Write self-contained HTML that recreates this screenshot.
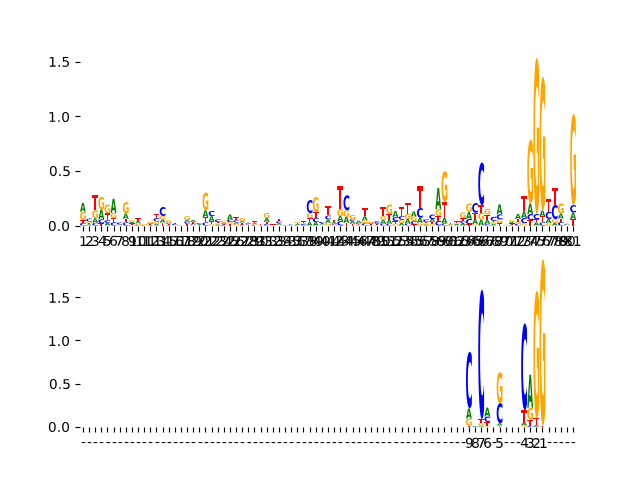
<!DOCTYPE html>
<html><head><meta charset="utf-8"><title>Sequence logo</title>
<style>html,body{margin:0;padding:0;background:#fff;width:640px;height:480px;overflow:hidden;font-family:"Liberation Sans",sans-serif}svg{display:block}</style>
</head><body>
<svg width="640" height="480" viewBox="0 0 460.8 345.6" version="1.1">
<defs>
<style type="text/css">*{stroke-linejoin: round; stroke-linecap: butt}</style>
</defs>
<g id="figure_1">
<g id="axes_1">
<g id="matplotlib.axis_1">
<g id="xtick_1">
<g id="text_1">
<g transform="translate(56.8743 177.0304) scale(0.1 -0.1)">
<defs>
<path id="DejaVuSans-31" d="M 794 531 
L 1825 531 
L 1825 4091 
L 703 3866 
L 703 4441 
L 1819 4666 
L 2450 4666 
L 2450 531 
L 3481 531 
L 3481 0 
L 794 0 
L 794 531 
z
" transform="scale(0.015469 0.015000)"/>
</defs>
<use href="#DejaVuSans-31"/>
</g>
</g>
</g>
<g id="xtick_2">
<g id="text_2">
<g transform="translate(61.2859 177.0304) scale(0.1 -0.1)">
<defs>
<path id="DejaVuSans-32" d="M 1228 531 
L 3431 531 
L 3431 0 
L 469 0 
L 469 531 
Q 828 903 1448 1529 
Q 2069 2156 2228 2338 
Q 2531 2678 2651 2914 
Q 2772 3150 2772 3378 
Q 2772 3750 2511 3984 
Q 2250 4219 1831 4219 
Q 1534 4219 1204 4116 
Q 875 4013 500 3803 
L 500 4441 
Q 881 4594 1212 4672 
Q 1544 4750 1819 4750 
Q 2544 4750 2975 4387 
Q 3406 4025 3406 3419 
Q 3406 3131 3298 2873 
Q 3191 2616 2906 2266 
Q 2828 2175 2409 1742 
Q 1991 1309 1228 531 
z
" transform="scale(0.015469 0.015000)"/>
</defs>
<use href="#DejaVuSans-32"/>
</g>
</g>
</g>
<g id="xtick_3">
<g id="text_3">
<g transform="translate(65.5175 177.0304) scale(0.1 -0.1)">
<defs>
<path id="DejaVuSans-33" d="M 2597 2516 
Q 3050 2419 3304 2112 
Q 3559 1806 3559 1356 
Q 3559 666 3084 287 
Q 2609 -91 1734 -91 
Q 1441 -91 1130 -33 
Q 819 25 488 141 
L 488 750 
Q 750 597 1062 519 
Q 1375 441 1716 441 
Q 2309 441 2620 675 
Q 2931 909 2931 1356 
Q 2931 1769 2642 2001 
Q 2353 2234 1838 2234 
L 1294 2234 
L 1294 2753 
L 1863 2753 
Q 2328 2753 2575 2939 
Q 2822 3125 2822 3475 
Q 2822 3834 2567 4026 
Q 2313 4219 1838 4219 
Q 1578 4219 1281 4162 
Q 984 4106 628 3988 
L 628 4550 
Q 988 4650 1302 4700 
Q 1616 4750 1894 4750 
Q 2613 4750 3031 4423 
Q 3450 4097 3450 3541 
Q 3450 3153 3228 2886 
Q 3006 2619 2597 2516 
z
" transform="scale(0.015469 0.015000)"/>
</defs>
<use href="#DejaVuSans-33"/>
</g>
</g>
</g>
<g id="xtick_4">
<g id="text_4">
<g transform="translate(70.6491 176.6704) scale(0.1 -0.1)">
<defs>
<path id="DejaVuSans-34" d="M 2419 4116 
L 825 1625 
L 2419 1625 
L 2419 4116 
z
M 2253 4666 
L 3047 4666 
L 3047 1625 
L 3713 1625 
L 3713 1100 
L 3047 1100 
L 3047 0 
L 2419 0 
L 2419 1100 
L 313 1100 
L 313 1709 
L 2253 4666 
z
" transform="scale(0.015469 0.015000)"/>
</defs>
<use href="#DejaVuSans-34"/>
</g>
</g>
</g>
<g id="xtick_5">
<g id="text_5">
<g transform="translate(74.1607 176.8504) scale(0.1 -0.1)">
<defs>
<path id="DejaVuSans-35" d="M 691 4666 
L 3169 4666 
L 3169 4134 
L 1269 4134 
L 1269 2991 
Q 1406 3038 1543 3061 
Q 1681 3084 1819 3084 
Q 2600 3084 3056 2656 
Q 3513 2228 3513 1497 
Q 3513 744 3044 326 
Q 2575 -91 1722 -91 
Q 1428 -91 1123 -41 
Q 819 9 494 109 
L 494 744 
Q 775 591 1075 516 
Q 1375 441 1709 441 
Q 2250 441 2565 725 
Q 2881 1009 2881 1497 
Q 2881 1984 2565 2268 
Q 2250 2553 1709 2553 
Q 1456 2553 1204 2497 
Q 953 2441 691 2322 
L 691 4666 
z
" transform="scale(0.015469 0.015000)"/>
</defs>
<use href="#DejaVuSans-35"/>
</g>
</g>
</g>
<g id="xtick_6">
<g id="text_6">
<g transform="translate(78.5723 176.8504) scale(0.1 -0.1)">
<defs>
<path id="DejaVuSans-36" d="M 2113 2584 
Q 1688 2584 1439 2293 
Q 1191 2003 1191 1497 
Q 1191 994 1439 701 
Q 1688 409 2113 409 
Q 2538 409 2786 701 
Q 3034 994 3034 1497 
Q 3034 2003 2786 2293 
Q 2538 2584 2113 2584 
z
M 3366 4563 
L 3366 3988 
Q 3128 4100 2886 4159 
Q 2644 4219 2406 4219 
Q 1781 4219 1451 3797 
Q 1122 3375 1075 2522 
Q 1259 2794 1537 2939 
Q 1816 3084 2150 3084 
Q 2853 3084 3261 2657 
Q 3669 2231 3669 1497 
Q 3669 778 3244 343 
Q 2819 -91 2113 -91 
Q 1303 -91 875 529 
Q 447 1150 447 2328 
Q 447 3434 972 4092 
Q 1497 4750 2381 4750 
Q 2619 4750 2861 4703 
Q 3103 4656 3366 4563 
z
" transform="scale(0.015469 0.015000)"/>
</defs>
<use href="#DejaVuSans-36"/>
</g>
</g>
</g>
<g id="xtick_7">
<g id="text_7">
<g transform="translate(82.8039 176.8504) scale(0.1 -0.1)">
<defs>
<path id="DejaVuSans-37" d="M 525 4666 
L 3525 4666 
L 3525 4397 
L 1831 0 
L 1172 0 
L 2766 4134 
L 525 4134 
L 525 4666 
z
" transform="scale(0.015469 0.015000)"/>
</defs>
<use href="#DejaVuSans-37"/>
</g>
</g>
</g>
<g id="xtick_8">
<g id="text_8">
<g transform="translate(87.2155 177.0304) scale(0.1 -0.1)">
<defs>
<path id="DejaVuSans-38" d="M 2034 2216 
Q 1584 2216 1326 1975 
Q 1069 1734 1069 1313 
Q 1069 891 1326 650 
Q 1584 409 2034 409 
Q 2484 409 2743 651 
Q 3003 894 3003 1313 
Q 3003 1734 2745 1975 
Q 2488 2216 2034 2216 
z
M 1403 2484 
Q 997 2584 770 2862 
Q 544 3141 544 3541 
Q 544 4100 942 4425 
Q 1341 4750 2034 4750 
Q 2731 4750 3128 4425 
Q 3525 4100 3525 3541 
Q 3525 3141 3298 2862 
Q 3072 2584 2669 2484 
Q 3125 2378 3379 2068 
Q 3634 1759 3634 1313 
Q 3634 634 3220 271 
Q 2806 -91 2034 -91 
Q 1263 -91 848 271 
Q 434 634 434 1313 
Q 434 1759 690 2068 
Q 947 2378 1403 2484 
z
M 1172 3481 
Q 1172 3119 1398 2916 
Q 1625 2713 2034 2713 
Q 2441 2713 2670 2916 
Q 2900 3119 2900 3481 
Q 2900 3844 2670 4047 
Q 2441 4250 2034 4250 
Q 1625 4250 1398 4047 
Q 1172 3844 1172 3481 
z
" transform="scale(0.015469 0.015000)"/>
</defs>
<use href="#DejaVuSans-38"/>
</g>
</g>
</g>
<g id="xtick_9">
<g id="text_9">
<g transform="translate(92.1672 177.0304) scale(0.1 -0.1)">
<defs>
<path id="DejaVuSans-39" d="M 703 97 
L 703 672 
Q 941 559 1184 500 
Q 1428 441 1663 441 
Q 2288 441 2617 861 
Q 2947 1281 2994 2138 
Q 2813 1869 2534 1725 
Q 2256 1581 1919 1581 
Q 1219 1581 811 2004 
Q 403 2428 403 3163 
Q 403 3881 828 4315 
Q 1253 4750 1959 4750 
Q 2769 4750 3195 4129 
Q 3622 3509 3622 2328 
Q 3622 1225 3098 567 
Q 2575 -91 1691 -91 
Q 1453 -91 1209 -44 
Q 966 3 703 97 
z
M 1959 2075 
Q 2384 2075 2632 2365 
Q 2881 2656 2881 3163 
Q 2881 3666 2632 3958 
Q 2384 4250 1959 4250 
Q 1534 4250 1286 3958 
Q 1038 3666 1038 3163 
Q 1038 2656 1286 2365 
Q 1534 2075 1959 2075 
z
" transform="scale(0.015469 0.015000)"/>
</defs>
<use href="#DejaVuSans-39"/>
</g>
</g>
</g>
<g id="xtick_10">
<g id="text_10">
<g transform="translate(92.8575 177.0304) scale(0.1 -0.1)">
<defs>
<path id="DejaVuSans-30" d="M 2034 4250 
Q 1547 4250 1301 3770 
Q 1056 3291 1056 2328 
Q 1056 1369 1301 889 
Q 1547 409 2034 409 
Q 2525 409 2770 889 
Q 3016 1369 3016 2328 
Q 3016 3291 2770 3770 
Q 2525 4250 2034 4250 
z
M 2034 4750 
Q 2819 4750 3233 4129 
Q 3647 3509 3647 2328 
Q 3647 1150 3233 529 
Q 2819 -91 2034 -91 
Q 1250 -91 836 529 
Q 422 1150 422 2328 
Q 422 3509 836 4129 
Q 1250 4750 2034 4750 
z
" transform="scale(0.015469 0.015000)"/>
</defs>
<use href="#DejaVuSans-31"/>
<use href="#DejaVuSans-30" transform="translate(63.623047 0)"/>
</g>
</g>
</g>
<g id="xtick_11">
<g id="text_11">
<g transform="translate(97.4491 177.0304) scale(0.1 -0.1)">
<use href="#DejaVuSans-31"/>
<use href="#DejaVuSans-31" transform="translate(63.623047 0)"/>
</g>
</g>
</g>
<g id="xtick_12">
<g id="text_12">
<g transform="translate(102.2207 177.0304) scale(0.1 -0.1)">
<use href="#DejaVuSans-31"/>
<use href="#DejaVuSans-32" transform="translate(63.623047 0)"/>
</g>
</g>
</g>
<g id="xtick_13">
<g id="text_13">
<g transform="translate(106.2724 177.0304) scale(0.1 -0.1)">
<use href="#DejaVuSans-31"/>
<use href="#DejaVuSans-33" transform="translate(63.623047 0)"/>
</g>
</g>
</g>
<g id="xtick_14">
<g id="text_14">
<g transform="translate(110.3240 176.8504) scale(0.1 -0.1)">
<use href="#DejaVuSans-31"/>
<use href="#DejaVuSans-34" transform="translate(63.623047 0)"/>
</g>
</g>
</g>
<g id="xtick_15">
<g id="text_15">
<g transform="translate(115.0956 177.0304) scale(0.1 -0.1)">
<use href="#DejaVuSans-31"/>
<use href="#DejaVuSans-35" transform="translate(63.623047 0)"/>
</g>
</g>
</g>
<g id="xtick_16">
<g id="text_16">
<g transform="translate(119.6872 177.0304) scale(0.1 -0.1)">
<use href="#DejaVuSans-31"/>
<use href="#DejaVuSans-36" transform="translate(63.623047 0)"/>
</g>
</g>
</g>
<g id="xtick_17">
<g id="text_17">
<g transform="translate(124.4588 176.8504) scale(0.1 -0.1)">
<use href="#DejaVuSans-31"/>
<use href="#DejaVuSans-37" transform="translate(63.623047 0)"/>
</g>
</g>
</g>
<g id="xtick_18">
<g id="text_18">
<g transform="translate(128.3304 177.0304) scale(0.1 -0.1)">
<use href="#DejaVuSans-31"/>
<use href="#DejaVuSans-38" transform="translate(63.623047 0)"/>
</g>
</g>
</g>
<g id="xtick_19">
<g id="text_19">
<g transform="translate(132.7420 177.0304) scale(0.1 -0.1)">
<use href="#DejaVuSans-31"/>
<use href="#DejaVuSans-39" transform="translate(63.623047 0)"/>
</g>
</g>
</g>
<g id="xtick_20">
<g id="text_20">
<g transform="translate(137.5136 177.0304) scale(0.1 -0.1)">
<use href="#DejaVuSans-32"/>
<use href="#DejaVuSans-30" transform="translate(63.623047 0)"/>
</g>
</g>
</g>
<g id="xtick_21">
<g id="text_21">
<g transform="translate(141.9253 177.0304) scale(0.1 -0.1)">
<use href="#DejaVuSans-32"/>
<use href="#DejaVuSans-31" transform="translate(63.623047 0)"/>
</g>
</g>
</g>
<g id="xtick_22">
<g id="text_22">
<g transform="translate(146.1569 177.0304) scale(0.1 -0.1)">
<use href="#DejaVuSans-32"/>
<use href="#DejaVuSans-32" transform="translate(63.623047 0)"/>
</g>
</g>
</g>
<g id="xtick_23">
<g id="text_23">
<g transform="translate(150.5685 177.0304) scale(0.1 -0.1)">
<use href="#DejaVuSans-32"/>
<use href="#DejaVuSans-33" transform="translate(63.623047 0)"/>
</g>
</g>
</g>
<g id="xtick_24">
<g id="text_24">
<g transform="translate(154.8001 177.0304) scale(0.1 -0.1)">
<use href="#DejaVuSans-32"/>
<use href="#DejaVuSans-34" transform="translate(63.623047 0)"/>
</g>
</g>
</g>
<g id="xtick_25">
<g id="text_25">
<g transform="translate(159.2117 177.0304) scale(0.1 -0.1)">
<use href="#DejaVuSans-32"/>
<use href="#DejaVuSans-35" transform="translate(63.623047 0)"/>
</g>
</g>
</g>
<g id="xtick_26">
<g id="text_26">
<g transform="translate(163.4433 177.0304) scale(0.1 -0.1)">
<use href="#DejaVuSans-32"/>
<use href="#DejaVuSans-36" transform="translate(63.623047 0)"/>
</g>
</g>
</g>
<g id="xtick_27">
<g id="text_27">
<g transform="translate(167.6749 177.0304) scale(0.1 -0.1)">
<use href="#DejaVuSans-32"/>
<use href="#DejaVuSans-37" transform="translate(63.623047 0)"/>
</g>
</g>
</g>
<g id="xtick_28">
<g id="text_28">
<g transform="translate(172.8065 177.0304) scale(0.1 -0.1)">
<use href="#DejaVuSans-32"/>
<use href="#DejaVuSans-38" transform="translate(63.623047 0)"/>
</g>
</g>
</g>
<g id="xtick_29">
<g id="text_29">
<g transform="translate(177.2182 177.0304) scale(0.1 -0.1)">
<use href="#DejaVuSans-32"/>
<use href="#DejaVuSans-39" transform="translate(63.623047 0)"/>
</g>
</g>
</g>
<g id="xtick_30">
<g id="text_30">
<g transform="translate(180.7298 177.0304) scale(0.1 -0.1)">
<use href="#DejaVuSans-33"/>
<use href="#DejaVuSans-30" transform="translate(63.623047 0)"/>
</g>
</g>
</g>
<g id="xtick_31">
<g id="text_31">
<g transform="translate(185.1414 177.0304) scale(0.1 -0.1)">
<use href="#DejaVuSans-33"/>
<use href="#DejaVuSans-31" transform="translate(63.623047 0)"/>
</g>
</g>
</g>
<g id="xtick_32">
<g id="text_32">
<g transform="translate(190.0930 177.0304) scale(0.1 -0.1)">
<use href="#DejaVuSans-33"/>
<use href="#DejaVuSans-32" transform="translate(63.623047 0)"/>
</g>
</g>
</g>
<g id="xtick_33">
<g id="text_33">
<g transform="translate(193.7846 177.0304) scale(0.1 -0.1)">
<use href="#DejaVuSans-33"/>
<use href="#DejaVuSans-33" transform="translate(63.623047 0)"/>
</g>
</g>
</g>
<g id="xtick_34">
<g id="text_34">
<g transform="translate(198.0162 176.8504) scale(0.1 -0.1)">
<use href="#DejaVuSans-33"/>
<use href="#DejaVuSans-34" transform="translate(63.623047 0)"/>
</g>
</g>
</g>
<g id="xtick_35">
<g id="text_35">
<g transform="translate(203.6878 177.0304) scale(0.1 -0.1)">
<use href="#DejaVuSans-33"/>
<use href="#DejaVuSans-35" transform="translate(63.623047 0)"/>
</g>
</g>
</g>
<g id="xtick_36">
<g id="text_36">
<g transform="translate(207.3794 177.0304) scale(0.1 -0.1)">
<use href="#DejaVuSans-33"/>
<use href="#DejaVuSans-36" transform="translate(63.623047 0)"/>
</g>
</g>
</g>
<g id="xtick_37">
<g id="text_37">
<g transform="translate(211.7911 176.8504) scale(0.1 -0.1)">
<use href="#DejaVuSans-33"/>
<use href="#DejaVuSans-37" transform="translate(63.623047 0)"/>
</g>
</g>
</g>
<g id="xtick_38">
<g id="text_38">
<g transform="translate(216.0227 177.0304) scale(0.1 -0.1)">
<use href="#DejaVuSans-33"/>
<use href="#DejaVuSans-38" transform="translate(63.623047 0)"/>
</g>
</g>
</g>
<g id="xtick_39">
<g id="text_39">
<g transform="translate(220.4343 177.0304) scale(0.1 -0.1)">
<use href="#DejaVuSans-33"/>
<use href="#DejaVuSans-39" transform="translate(63.623047 0)"/>
</g>
</g>
</g>
<g id="xtick_40">
<g id="text_40">
<g transform="translate(225.3859 177.0304) scale(0.1 -0.1)">
<use href="#DejaVuSans-34"/>
<use href="#DejaVuSans-30" transform="translate(63.623047 0)"/>
</g>
</g>
</g>
<g id="xtick_41">
<g id="text_41">
<g transform="translate(230.3375 176.8504) scale(0.1 -0.1)">
<use href="#DejaVuSans-34"/>
<use href="#DejaVuSans-31" transform="translate(63.623047 0)"/>
</g>
</g>
</g>
<g id="xtick_42">
<g id="text_42">
<g transform="translate(234.7491 176.8504) scale(0.1 -0.1)">
<use href="#DejaVuSans-34"/>
<use href="#DejaVuSans-32" transform="translate(63.623047 0)"/>
</g>
</g>
</g>
<g id="xtick_43">
<g id="text_43">
<g transform="translate(238.9807 176.8504) scale(0.1 -0.1)">
<use href="#DejaVuSans-34"/>
<use href="#DejaVuSans-33" transform="translate(63.623047 0)"/>
</g>
</g>
</g>
<g id="xtick_44">
<g id="text_44">
<g transform="translate(242.6723 176.8504) scale(0.1 -0.1)">
<use href="#DejaVuSans-34"/>
<use href="#DejaVuSans-34" transform="translate(63.623047 0)"/>
</g>
</g>
</g>
<g id="xtick_45">
<g id="text_45">
<g transform="translate(247.6239 176.8504) scale(0.1 -0.1)">
<use href="#DejaVuSans-34"/>
<use href="#DejaVuSans-35" transform="translate(63.623047 0)"/>
</g>
</g>
</g>
<g id="xtick_46">
<g id="text_46">
<g transform="translate(252.0356 176.8504) scale(0.1 -0.1)">
<use href="#DejaVuSans-34"/>
<use href="#DejaVuSans-36" transform="translate(63.623047 0)"/>
</g>
</g>
</g>
<g id="xtick_47">
<g id="text_47">
<g transform="translate(256.9872 176.8504) scale(0.1 -0.1)">
<use href="#DejaVuSans-34"/>
<use href="#DejaVuSans-37" transform="translate(63.623047 0)"/>
</g>
</g>
</g>
<g id="xtick_48">
<g id="text_48">
<g transform="translate(260.6788 177.0304) scale(0.1 -0.1)">
<use href="#DejaVuSans-34"/>
<use href="#DejaVuSans-38" transform="translate(63.623047 0)"/>
</g>
</g>
</g>
<g id="xtick_49">
<g id="text_49">
<g transform="translate(265.0904 176.8504) scale(0.1 -0.1)">
<use href="#DejaVuSans-34"/>
<use href="#DejaVuSans-39" transform="translate(63.623047 0)"/>
</g>
</g>
</g>
<g id="xtick_50">
<g id="text_50">
<g transform="translate(268.6020 177.0304) scale(0.1 -0.1)">
<use href="#DejaVuSans-35"/>
<use href="#DejaVuSans-30" transform="translate(63.623047 0)"/>
</g>
</g>
</g>
<g id="xtick_51">
<g id="text_51">
<g transform="translate(273.7336 177.0304) scale(0.1 -0.1)">
<use href="#DejaVuSans-35"/>
<use href="#DejaVuSans-31" transform="translate(63.623047 0)"/>
</g>
</g>
</g>
<g id="xtick_52">
<g id="text_52">
<g transform="translate(277.9652 177.0304) scale(0.1 -0.1)">
<use href="#DejaVuSans-35"/>
<use href="#DejaVuSans-32" transform="translate(63.623047 0)"/>
</g>
</g>
</g>
<g id="xtick_53">
<g id="text_53">
<g transform="translate(282.9168 176.8504) scale(0.1 -0.1)">
<use href="#DejaVuSans-35"/>
<use href="#DejaVuSans-33" transform="translate(63.623047 0)"/>
</g>
</g>
</g>
<g id="xtick_54">
<g id="text_54">
<g transform="translate(286.6085 176.8504) scale(0.1 -0.1)">
<use href="#DejaVuSans-35"/>
<use href="#DejaVuSans-34" transform="translate(63.623047 0)"/>
</g>
</g>
</g>
<g id="xtick_55">
<g id="text_55">
<g transform="translate(291.5601 176.8504) scale(0.1 -0.1)">
<use href="#DejaVuSans-35"/>
<use href="#DejaVuSans-35" transform="translate(63.623047 0)"/>
</g>
</g>
</g>
<g id="xtick_56">
<g id="text_56">
<g transform="translate(295.2517 176.8504) scale(0.1 -0.1)">
<use href="#DejaVuSans-35"/>
<use href="#DejaVuSans-36" transform="translate(63.623047 0)"/>
</g>
</g>
</g>
<g id="xtick_57">
<g id="text_57">
<g transform="translate(299.6633 176.8504) scale(0.1 -0.1)">
<use href="#DejaVuSans-35"/>
<use href="#DejaVuSans-37" transform="translate(63.623047 0)"/>
</g>
</g>
</g>
<g id="xtick_58">
<g id="text_58">
<g transform="translate(303.8949 177.0304) scale(0.1 -0.1)">
<use href="#DejaVuSans-35"/>
<use href="#DejaVuSans-38" transform="translate(63.623047 0)"/>
</g>
</g>
</g>
<g id="xtick_59">
<g id="text_59">
<g transform="translate(309.0265 176.8504) scale(0.1 -0.1)">
<use href="#DejaVuSans-35"/>
<use href="#DejaVuSans-39" transform="translate(63.623047 0)"/>
</g>
</g>
</g>
<g id="xtick_60">
<g id="text_60">
<g transform="translate(313.9781 177.0304) scale(0.1 -0.1)">
<use href="#DejaVuSans-36"/>
<use href="#DejaVuSans-30" transform="translate(63.623047 0)"/>
</g>
</g>
</g>
<g id="xtick_61">
<g id="text_61">
<g transform="translate(318.2097 177.0304) scale(0.1 -0.1)">
<use href="#DejaVuSans-36"/>
<use href="#DejaVuSans-31" transform="translate(63.623047 0)"/>
</g>
</g>
</g>
<g id="xtick_62">
<g id="text_62">
<g transform="translate(322.6214 177.0304) scale(0.1 -0.1)">
<use href="#DejaVuSans-36"/>
<use href="#DejaVuSans-32" transform="translate(63.623047 0)"/>
</g>
</g>
</g>
<g id="xtick_63">
<g id="text_63">
<g transform="translate(326.8530 177.0304) scale(0.1 -0.1)">
<use href="#DejaVuSans-36"/>
<use href="#DejaVuSans-33" transform="translate(63.623047 0)"/>
</g>
</g>
</g>
<g id="xtick_64">
<g id="text_64">
<g transform="translate(331.2646 176.8504) scale(0.1 -0.1)">
<use href="#DejaVuSans-36"/>
<use href="#DejaVuSans-34" transform="translate(63.623047 0)"/>
</g>
</g>
</g>
<g id="xtick_65">
<g id="text_65">
<g transform="translate(335.4962 176.8504) scale(0.1 -0.1)">
<use href="#DejaVuSans-36"/>
<use href="#DejaVuSans-35" transform="translate(63.623047 0)"/>
</g>
</g>
</g>
<g id="xtick_66">
<g id="text_66">
<g transform="translate(339.9078 176.8504) scale(0.1 -0.1)">
<use href="#DejaVuSans-36"/>
<use href="#DejaVuSans-36" transform="translate(63.623047 0)"/>
</g>
</g>
</g>
<g id="xtick_67">
<g id="text_67">
<g transform="translate(344.1394 177.0304) scale(0.1 -0.1)">
<use href="#DejaVuSans-36"/>
<use href="#DejaVuSans-37" transform="translate(63.623047 0)"/>
</g>
</g>
</g>
<g id="xtick_68">
<g id="text_68">
<g transform="translate(349.2710 177.0304) scale(0.1 -0.1)">
<use href="#DejaVuSans-36"/>
<use href="#DejaVuSans-38" transform="translate(63.623047 0)"/>
</g>
</g>
</g>
<g id="xtick_69">
<g id="text_69">
<g transform="translate(353.5026 177.0304) scale(0.1 -0.1)">
<use href="#DejaVuSans-36"/>
<use href="#DejaVuSans-39" transform="translate(63.623047 0)"/>
</g>
</g>
</g>
<g id="xtick_70">
<g id="text_70">
<g transform="translate(357.0143 177.0304) scale(0.1 -0.1)">
<use href="#DejaVuSans-37"/>
<use href="#DejaVuSans-30" transform="translate(63.623047 0)"/>
</g>
</g>
</g>
<g id="xtick_71">
<g id="text_71">
<g transform="translate(361.4259 177.0304) scale(0.1 -0.1)">
<use href="#DejaVuSans-37"/>
<use href="#DejaVuSans-31" transform="translate(63.623047 0)"/>
</g>
</g>
</g>
<g id="xtick_72">
<g id="text_72">
<g transform="translate(365.8375 177.0304) scale(0.1 -0.1)">
<use href="#DejaVuSans-37"/>
<use href="#DejaVuSans-32" transform="translate(63.623047 0)"/>
</g>
</g>
</g>
<g id="xtick_73">
<g id="text_73">
<g transform="translate(370.2491 177.0304) scale(0.1 -0.1)">
<use href="#DejaVuSans-37"/>
<use href="#DejaVuSans-33" transform="translate(63.623047 0)"/>
</g>
</g>
</g>
<g id="xtick_74">
<g id="text_74">
<g transform="translate(375.2007 176.8504) scale(0.1 -0.1)">
<use href="#DejaVuSans-37"/>
<use href="#DejaVuSans-34" transform="translate(63.623047 0)"/>
</g>
</g>
</g>
<g id="xtick_75">
<g id="text_75">
<g transform="translate(380.1523 176.8504) scale(0.1 -0.1)">
<use href="#DejaVuSans-37"/>
<use href="#DejaVuSans-35" transform="translate(63.623047 0)"/>
</g>
</g>
</g>
<g id="xtick_76">
<g id="text_76">
<g transform="translate(383.8439 176.8504) scale(0.1 -0.1)">
<use href="#DejaVuSans-37"/>
<use href="#DejaVuSans-36" transform="translate(63.623047 0)"/>
</g>
</g>
</g>
<g id="xtick_77">
<g id="text_77">
<g transform="translate(388.0755 176.8504) scale(0.1 -0.1)">
<use href="#DejaVuSans-37"/>
<use href="#DejaVuSans-37" transform="translate(63.623047 0)"/>
</g>
</g>
</g>
<g id="xtick_78">
<g id="text_78">
<g transform="translate(392.4871 177.0304) scale(0.1 -0.1)">
<use href="#DejaVuSans-37"/>
<use href="#DejaVuSans-38" transform="translate(63.623047 0)"/>
</g>
</g>
</g>
<g id="xtick_79">
<g id="text_79">
<g transform="translate(396.8988 176.8504) scale(0.1 -0.1)">
<use href="#DejaVuSans-37"/>
<use href="#DejaVuSans-39" transform="translate(63.623047 0)"/>
</g>
</g>
</g>
<g id="xtick_80">
<g id="text_80">
<g transform="translate(401.8504 177.0304) scale(0.1 -0.1)">
<use href="#DejaVuSans-38"/>
<use href="#DejaVuSans-30" transform="translate(63.623047 0)"/>
</g>
</g>
</g>
<g id="xtick_81">
<g id="text_81">
<g transform="translate(406.0820 177.0304) scale(0.1 -0.1)">
<use href="#DejaVuSans-38"/>
<use href="#DejaVuSans-31" transform="translate(63.623047 0)"/>
</g>
</g>
</g>
</g>
<g id="matplotlib.axis_2">
<g id="ytick_1">
<g id="text_82">
<g transform="translate(34.5169 166.2312) scale(0.1 -0.1)">
<defs>
<path id="DejaVuSans-2e" d="M 684 794 
L 1344 794 
L 1344 0 
L 684 0 
L 684 794 
z
" transform="scale(0.015469 0.015000)"/>
</defs>
<use href="#DejaVuSans-30"/>
<use href="#DejaVuSans-2e" transform="translate(63.623047 0)"/>
<use href="#DejaVuSans-30" transform="translate(95.410156 0)"/>
</g>
</g>
</g>
<g id="ytick_2">
<g id="text_83">
<g transform="translate(35.2369 126.7032) scale(0.1 -0.1)">
<use href="#DejaVuSans-30"/>
<use href="#DejaVuSans-2e" transform="translate(63.623047 0)"/>
<use href="#DejaVuSans-35" transform="translate(95.410156 0)"/>
</g>
</g>
</g>
<g id="ytick_3">
<g id="text_84">
<g transform="translate(34.5169 87.7152) scale(0.1 -0.1)">
<use href="#DejaVuSans-31"/>
<use href="#DejaVuSans-2e" transform="translate(63.623047 0)"/>
<use href="#DejaVuSans-30" transform="translate(95.410156 0)"/>
</g>
</g>
</g>
<g id="ytick_4">
<g id="text_85">
<g transform="translate(34.6969 48.0072) scale(0.1 -0.1)">
<use href="#DejaVuSans-31"/>
<use href="#DejaVuSans-2e" transform="translate(63.623047 0)"/>
<use href="#DejaVuSans-35" transform="translate(95.410156 0)"/>
</g>
</g>
</g>
</g>
</g>
<g id="axes_2">
<g id="matplotlib.axis_3">
<g id="xtick_82">
<g id="text_86">
<g transform="translate(58.2516 321.2824) scale(0.1 -0.1)">
<defs>
<path id="DejaVuSans-2d" d="M 313 2009 
L 1997 2009 
L 1997 1497 
L 313 1497 
L 313 2009 
z
" transform="scale(0.015469 0.015000)"/>
</defs>
<use href="#DejaVuSans-2d"/>
</g>
</g>
</g>
<g id="xtick_83">
<g id="text_87">
<g transform="translate(62.6632 321.2824) scale(0.1 -0.1)">
<use href="#DejaVuSans-2d"/>
</g>
</g>
</g>
<g id="xtick_84">
<g id="text_88">
<g transform="translate(66.8948 321.2824) scale(0.1 -0.1)">
<use href="#DejaVuSans-2d"/>
</g>
</g>
</g>
<g id="xtick_85">
<g id="text_89">
<g transform="translate(71.3064 321.2824) scale(0.1 -0.1)">
<use href="#DejaVuSans-2d"/>
</g>
</g>
</g>
<g id="xtick_86">
<g id="text_90">
<g transform="translate(76.2581 321.2824) scale(0.1 -0.1)">
<use href="#DejaVuSans-2d"/>
</g>
</g>
</g>
<g id="xtick_87">
<g id="text_91">
<g transform="translate(80.6697 321.2824) scale(0.1 -0.1)">
<use href="#DejaVuSans-2d"/>
</g>
</g>
</g>
<g id="xtick_88">
<g id="text_92">
<g transform="translate(84.9013 321.2824) scale(0.1 -0.1)">
<use href="#DejaVuSans-2d"/>
</g>
</g>
</g>
<g id="xtick_89">
<g id="text_93">
<g transform="translate(89.3129 321.2824) scale(0.1 -0.1)">
<use href="#DejaVuSans-2d"/>
</g>
</g>
</g>
<g id="xtick_90">
<g id="text_94">
<g transform="translate(93.5445 321.2824) scale(0.1 -0.1)">
<use href="#DejaVuSans-2d"/>
</g>
</g>
</g>
<g id="xtick_91">
<g id="text_95">
<g transform="translate(97.9561 321.2824) scale(0.1 -0.1)">
<use href="#DejaVuSans-2d"/>
</g>
</g>
</g>
<g id="xtick_92">
<g id="text_96">
<g transform="translate(102.1877 321.2824) scale(0.1 -0.1)">
<use href="#DejaVuSans-2d"/>
</g>
</g>
</g>
<g id="xtick_93">
<g id="text_97">
<g transform="translate(106.5993 321.2824) scale(0.1 -0.1)">
<use href="#DejaVuSans-2d"/>
</g>
</g>
</g>
<g id="xtick_94">
<g id="text_98">
<g transform="translate(111.5510 321.2824) scale(0.1 -0.1)">
<use href="#DejaVuSans-2d"/>
</g>
</g>
</g>
<g id="xtick_95">
<g id="text_99">
<g transform="translate(115.9626 321.2824) scale(0.1 -0.1)">
<use href="#DejaVuSans-2d"/>
</g>
</g>
</g>
<g id="xtick_96">
<g id="text_100">
<g transform="translate(120.1942 321.2824) scale(0.1 -0.1)">
<use href="#DejaVuSans-2d"/>
</g>
</g>
</g>
<g id="xtick_97">
<g id="text_101">
<g transform="translate(124.6058 321.2824) scale(0.1 -0.1)">
<use href="#DejaVuSans-2d"/>
</g>
</g>
</g>
<g id="xtick_98">
<g id="text_102">
<g transform="translate(128.8374 321.2824) scale(0.1 -0.1)">
<use href="#DejaVuSans-2d"/>
</g>
</g>
</g>
<g id="xtick_99">
<g id="text_103">
<g transform="translate(133.2490 321.2824) scale(0.1 -0.1)">
<use href="#DejaVuSans-2d"/>
</g>
</g>
</g>
<g id="xtick_100">
<g id="text_104">
<g transform="translate(137.4806 321.2824) scale(0.1 -0.1)">
<use href="#DejaVuSans-2d"/>
</g>
</g>
</g>
<g id="xtick_101">
<g id="text_105">
<g transform="translate(142.6122 321.2824) scale(0.1 -0.1)">
<use href="#DejaVuSans-2d"/>
</g>
</g>
</g>
<g id="xtick_102">
<g id="text_106">
<g transform="translate(146.8439 321.2824) scale(0.1 -0.1)">
<use href="#DejaVuSans-2d"/>
</g>
</g>
</g>
<g id="xtick_103">
<g id="text_107">
<g transform="translate(151.2555 321.2824) scale(0.1 -0.1)">
<use href="#DejaVuSans-2d"/>
</g>
</g>
</g>
<g id="xtick_104">
<g id="text_108">
<g transform="translate(155.4871 321.2824) scale(0.1 -0.1)">
<use href="#DejaVuSans-2d"/>
</g>
</g>
</g>
<g id="xtick_105">
<g id="text_109">
<g transform="translate(159.7187 321.2824) scale(0.1 -0.1)">
<use href="#DejaVuSans-2d"/>
</g>
</g>
</g>
<g id="xtick_106">
<g id="text_110">
<g transform="translate(164.1303 321.2824) scale(0.1 -0.1)">
<use href="#DejaVuSans-2d"/>
</g>
</g>
</g>
<g id="xtick_107">
<g id="text_111">
<g transform="translate(168.3619 321.2824) scale(0.1 -0.1)">
<use href="#DejaVuSans-2d"/>
</g>
</g>
</g>
<g id="xtick_108">
<g id="text_112">
<g transform="translate(172.7735 321.2824) scale(0.1 -0.1)">
<use href="#DejaVuSans-2d"/>
</g>
</g>
</g>
<g id="xtick_109">
<g id="text_113">
<g transform="translate(177.7251 321.2824) scale(0.1 -0.1)">
<use href="#DejaVuSans-2d"/>
</g>
</g>
</g>
<g id="xtick_110">
<g id="text_114">
<g transform="translate(182.1367 321.2824) scale(0.1 -0.1)">
<use href="#DejaVuSans-2d"/>
</g>
</g>
</g>
<g id="xtick_111">
<g id="text_115">
<g transform="translate(186.3684 321.2824) scale(0.1 -0.1)">
<use href="#DejaVuSans-2d"/>
</g>
</g>
</g>
<g id="xtick_112">
<g id="text_116">
<g transform="translate(190.7800 321.2824) scale(0.1 -0.1)">
<use href="#DejaVuSans-2d"/>
</g>
</g>
</g>
<g id="xtick_113">
<g id="text_117">
<g transform="translate(195.0116 321.2824) scale(0.1 -0.1)">
<use href="#DejaVuSans-2d"/>
</g>
</g>
</g>
<g id="xtick_114">
<g id="text_118">
<g transform="translate(199.4232 321.2824) scale(0.1 -0.1)">
<use href="#DejaVuSans-2d"/>
</g>
</g>
</g>
<g id="xtick_115">
<g id="text_119">
<g transform="translate(203.6548 321.2824) scale(0.1 -0.1)">
<use href="#DejaVuSans-2d"/>
</g>
</g>
</g>
<g id="xtick_116">
<g id="text_120">
<g transform="translate(208.0664 321.2824) scale(0.1 -0.1)">
<use href="#DejaVuSans-2d"/>
</g>
</g>
</g>
<g id="xtick_117">
<g id="text_121">
<g transform="translate(213.0180 321.2824) scale(0.1 -0.1)">
<use href="#DejaVuSans-2d"/>
</g>
</g>
</g>
<g id="xtick_118">
<g id="text_122">
<g transform="translate(217.4296 321.2824) scale(0.1 -0.1)">
<use href="#DejaVuSans-2d"/>
</g>
</g>
</g>
<g id="xtick_119">
<g id="text_123">
<g transform="translate(221.6613 321.2824) scale(0.1 -0.1)">
<use href="#DejaVuSans-2d"/>
</g>
</g>
</g>
<g id="xtick_120">
<g id="text_124">
<g transform="translate(226.0729 321.2824) scale(0.1 -0.1)">
<use href="#DejaVuSans-2d"/>
</g>
</g>
</g>
<g id="xtick_121">
<g id="text_125">
<g transform="translate(230.3045 321.2824) scale(0.1 -0.1)">
<use href="#DejaVuSans-2d"/>
</g>
</g>
</g>
<g id="xtick_122">
<g id="text_126">
<g transform="translate(234.7161 321.2824) scale(0.1 -0.1)">
<use href="#DejaVuSans-2d"/>
</g>
</g>
</g>
<g id="xtick_123">
<g id="text_127">
<g transform="translate(238.9477 321.2824) scale(0.1 -0.1)">
<use href="#DejaVuSans-2d"/>
</g>
</g>
</g>
<g id="xtick_124">
<g id="text_128">
<g transform="translate(243.3593 321.2824) scale(0.1 -0.1)">
<use href="#DejaVuSans-2d"/>
</g>
</g>
</g>
<g id="xtick_125">
<g id="text_129">
<g transform="translate(248.3109 321.2824) scale(0.1 -0.1)">
<use href="#DejaVuSans-2d"/>
</g>
</g>
</g>
<g id="xtick_126">
<g id="text_130">
<g transform="translate(252.7225 321.2824) scale(0.1 -0.1)">
<use href="#DejaVuSans-2d"/>
</g>
</g>
</g>
<g id="xtick_127">
<g id="text_131">
<g transform="translate(256.9542 321.2824) scale(0.1 -0.1)">
<use href="#DejaVuSans-2d"/>
</g>
</g>
</g>
<g id="xtick_128">
<g id="text_132">
<g transform="translate(261.3658 321.2824) scale(0.1 -0.1)">
<use href="#DejaVuSans-2d"/>
</g>
</g>
</g>
<g id="xtick_129">
<g id="text_133">
<g transform="translate(265.5974 321.2824) scale(0.1 -0.1)">
<use href="#DejaVuSans-2d"/>
</g>
</g>
</g>
<g id="xtick_130">
<g id="text_134">
<g transform="translate(270.0090 321.2824) scale(0.1 -0.1)">
<use href="#DejaVuSans-2d"/>
</g>
</g>
</g>
<g id="xtick_131">
<g id="text_135">
<g transform="translate(274.2406 321.2824) scale(0.1 -0.1)">
<use href="#DejaVuSans-2d"/>
</g>
</g>
</g>
<g id="xtick_132">
<g id="text_136">
<g transform="translate(278.6522 321.2824) scale(0.1 -0.1)">
<use href="#DejaVuSans-2d"/>
</g>
</g>
</g>
<g id="xtick_133">
<g id="text_137">
<g transform="translate(283.6038 321.2824) scale(0.1 -0.1)">
<use href="#DejaVuSans-2d"/>
</g>
</g>
</g>
<g id="xtick_134">
<g id="text_138">
<g transform="translate(288.0154 321.2824) scale(0.1 -0.1)">
<use href="#DejaVuSans-2d"/>
</g>
</g>
</g>
<g id="xtick_135">
<g id="text_139">
<g transform="translate(292.2471 321.2824) scale(0.1 -0.1)">
<use href="#DejaVuSans-2d"/>
</g>
</g>
</g>
<g id="xtick_136">
<g id="text_140">
<g transform="translate(296.6587 321.2824) scale(0.1 -0.1)">
<use href="#DejaVuSans-2d"/>
</g>
</g>
</g>
<g id="xtick_137">
<g id="text_141">
<g transform="translate(300.8903 321.2824) scale(0.1 -0.1)">
<use href="#DejaVuSans-2d"/>
</g>
</g>
</g>
<g id="xtick_138">
<g id="text_142">
<g transform="translate(305.3019 321.2824) scale(0.1 -0.1)">
<use href="#DejaVuSans-2d"/>
</g>
</g>
</g>
<g id="xtick_139">
<g id="text_143">
<g transform="translate(309.5335 321.2824) scale(0.1 -0.1)">
<use href="#DejaVuSans-2d"/>
</g>
</g>
</g>
<g id="xtick_140">
<g id="text_144">
<g transform="translate(313.9451 321.2824) scale(0.1 -0.1)">
<use href="#DejaVuSans-2d"/>
</g>
</g>
</g>
<g id="xtick_141">
<g id="text_145">
<g transform="translate(318.8967 321.2824) scale(0.1 -0.1)">
<use href="#DejaVuSans-2d"/>
</g>
</g>
</g>
<g id="xtick_142">
<g id="text_146">
<g transform="translate(323.3083 321.2824) scale(0.1 -0.1)">
<use href="#DejaVuSans-2d"/>
</g>
</g>
</g>
<g id="xtick_143">
<g id="text_147">
<g transform="translate(327.5399 321.2824) scale(0.1 -0.1)">
<use href="#DejaVuSans-2d"/>
</g>
</g>
</g>
<g id="xtick_144">
<g id="text_148">
<g transform="translate(331.9516 321.2824) scale(0.1 -0.1)">
<use href="#DejaVuSans-2d"/>
</g>
</g>
</g>
<g id="xtick_145">
<g id="text_149">
<g transform="translate(334.8058 322.3624) scale(0.1 -0.1)">
<use href="#DejaVuSans-39"/>
</g>
</g>
</g>
<g id="xtick_146">
<g id="text_150">
<g transform="translate(339.2174 322.3624) scale(0.1 -0.1)">
<use href="#DejaVuSans-38"/>
</g>
</g>
</g>
<g id="xtick_147">
<g id="text_151">
<g transform="translate(343.4491 322.3624) scale(0.1 -0.1)">
<use href="#DejaVuSans-37"/>
</g>
</g>
</g>
<g id="xtick_148">
<g id="text_152">
<g transform="translate(347.8607 322.3624) scale(0.1 -0.1)">
<use href="#DejaVuSans-36"/>
</g>
</g>
</g>
<g id="xtick_149">
<g id="text_153">
<g transform="translate(354.1896 321.2824) scale(0.1 -0.1)">
<use href="#DejaVuSans-2d"/>
</g>
</g>
</g>
<g id="xtick_150">
<g id="text_154">
<g transform="translate(356.5039 322.3624) scale(0.1 -0.1)">
<use href="#DejaVuSans-35"/>
</g>
</g>
</g>
<g id="xtick_151">
<g id="text_155">
<g transform="translate(362.8328 321.2824) scale(0.1 -0.1)">
<use href="#DejaVuSans-2d"/>
</g>
</g>
</g>
<g id="xtick_152">
<g id="text_156">
<g transform="translate(367.2445 321.2824) scale(0.1 -0.1)">
<use href="#DejaVuSans-2d"/>
</g>
</g>
</g>
<g id="xtick_153">
<g id="text_157">
<g transform="translate(371.4761 321.2824) scale(0.1 -0.1)">
<use href="#DejaVuSans-2d"/>
</g>
</g>
</g>
<g id="xtick_154">
<g id="text_158">
<g transform="translate(374.5103 322.1824) scale(0.1 -0.1)">
<use href="#DejaVuSans-34"/>
</g>
</g>
</g>
<g id="xtick_155">
<g id="text_159">
<g transform="translate(378.7420 322.3624) scale(0.1 -0.1)">
<use href="#DejaVuSans-33"/>
</g>
</g>
</g>
<g id="xtick_156">
<g id="text_160">
<g transform="translate(383.1536 322.5424) scale(0.1 -0.1)">
<use href="#DejaVuSans-32"/>
</g>
</g>
</g>
<g id="xtick_157">
<g id="text_161">
<g transform="translate(388.1052 322.5424) scale(0.1 -0.1)">
<use href="#DejaVuSans-31"/>
</g>
</g>
</g>
<g id="xtick_158">
<g id="text_162">
<g transform="translate(393.8941 321.2824) scale(0.1 -0.1)">
<use href="#DejaVuSans-2d"/>
</g>
</g>
</g>
<g id="xtick_159">
<g id="text_163">
<g transform="translate(398.1257 321.2824) scale(0.1 -0.1)">
<use href="#DejaVuSans-2d"/>
</g>
</g>
</g>
<g id="xtick_160">
<g id="text_164">
<g transform="translate(402.3574 321.2824) scale(0.1 -0.1)">
<use href="#DejaVuSans-2d"/>
</g>
</g>
</g>
<g id="xtick_161">
<g id="text_165">
<g transform="translate(406.7690 321.2824) scale(0.1 -0.1)">
<use href="#DejaVuSans-2d"/>
</g>
</g>
</g>
<g id="xtick_162">
<g id="text_166">
<g transform="translate(411.0006 321.2824) scale(0.1 -0.1)">
<use href="#DejaVuSans-2d"/>
</g>
</g>
</g>
</g>
<g id="matplotlib.axis_4">
<g id="ytick_5">
<g id="text_167">
<g transform="translate(34.5169 310.9152) scale(0.1 -0.1)">
<use href="#DejaVuSans-30"/>
<use href="#DejaVuSans-2e" transform="translate(63.623047 0)"/>
<use href="#DejaVuSans-30" transform="translate(95.410156 0)"/>
</g>
</g>
</g>
<g id="ytick_6">
<g id="text_168">
<g transform="translate(35.2369 279.9732) scale(0.1 -0.1)">
<use href="#DejaVuSans-30"/>
<use href="#DejaVuSans-2e" transform="translate(63.623047 0)"/>
<use href="#DejaVuSans-35" transform="translate(95.410156 0)"/>
</g>
</g>
</g>
<g id="ytick_7">
<g id="text_169">
<g transform="translate(34.5169 249.0312) scale(0.1 -0.1)">
<use href="#DejaVuSans-31"/>
<use href="#DejaVuSans-2e" transform="translate(63.623047 0)"/>
<use href="#DejaVuSans-30" transform="translate(95.410156 0)"/>
</g>
</g>
</g>
<g id="ytick_8">
<g id="text_170">
<g transform="translate(34.6969 217.9092) scale(0.1 -0.1)">
<use href="#DejaVuSans-31"/>
<use href="#DejaVuSans-2e" transform="translate(63.623047 0)"/>
<use href="#DejaVuSans-35" transform="translate(95.410156 0)"/>
</g>
</g>
</g>
</g>
</g>
</g>
<defs><path id="gA" d="M692.7 182.2L308.1 182.2L247.4 0L0 0L353.3 1000L646.7 1000L1000 0L752.8 0L692.7 182.2ZM369.5 367.8L630.8 367.8L500.3 765.5L369.5 367.8Z"/><path id="gC" d="M1000 71.7Q916.4 36.1 825.9 18.2Q735.4 0 636.9 0Q343.2 0 171.6 134.7Q0 269.4 0 499.7Q0 730.8 171.6 865.3Q343.2 1000 636.9 1000Q735.4 1000 825.9 981.8Q916.4 963.9 1000 928.3L1000 729Q915.6 776.1 833.7 798Q751.8 819.9 661.4 819.9Q499.1 819.9 406.1 734.6Q313.4 649.5 313.4 499.7Q313.4 350.5 406.1 265.2Q499.1 180.1 661.4 180.1Q751.8 180.1 833.7 202Q915.6 224.1 1000 271.2L1000 71.7Z"/><path id="gG" d="M1000 90.5Q899.1 45.2 790.7 22.5Q682.2 0 566.6 0Q305.2 0 152.6 134.7Q0 269.4 0 499.7Q0 732.7 155.3 866.3Q310.8 1000 581.4 1000Q685.6 1000 781 981.8Q876.7 963.9 961.5 928.3L961.5 729Q874 774.6 787.5 797.1Q701 819.9 614.1 819.9Q453.2 819.9 366 736.8Q278.8 654 278.8 499.7Q278.8 346.8 362.8 263.4Q446.9 180.1 601.5 180.1Q643.7 180.1 679.7 184.9Q715.8 189.8 744.5 200.2L744.5 387.3L579.8 387.3L579.8 554L1000 554L1000 90.5Z"/><path id="gT" d="M0 1000L1000 1000L1000 805L640.2 805L640.2 0L360.5 0L360.5 805L0 805L0 1000Z"/></defs><g transform="scale(0.72)"><g fill="#000"><rect x="75.5" y="225.945" width="5" height="1.11"/><rect x="75.5" y="170.945" width="5" height="1.11"/><rect x="75.5" y="115.945" width="5" height="1.11"/><rect x="75.5" y="61.945" width="5" height="1.11"/><rect x="82.945" y="226.5" width="1.11" height="5"/><rect x="88.945" y="226.5" width="1.11" height="5"/><rect x="94.945" y="226.5" width="1.11" height="5"/><rect x="100.945" y="226.5" width="1.11" height="5"/><rect x="106.945" y="226.5" width="1.11" height="5"/><rect x="113.945" y="226.5" width="1.11" height="5"/><rect x="119.945" y="226.5" width="1.11" height="5"/><rect x="125.945" y="226.5" width="1.11" height="5"/><rect x="131.945" y="226.5" width="1.11" height="5"/><rect x="137.945" y="226.5" width="1.11" height="5"/><rect x="143.945" y="226.5" width="1.11" height="5"/><rect x="149.945" y="226.5" width="1.11" height="5"/><rect x="155.945" y="226.5" width="1.11" height="5"/><rect x="162.945" y="226.5" width="1.11" height="5"/><rect x="168.945" y="226.5" width="1.11" height="5"/><rect x="174.945" y="226.5" width="1.11" height="5"/><rect x="180.945" y="226.5" width="1.11" height="5"/><rect x="186.945" y="226.5" width="1.11" height="5"/><rect x="192.945" y="226.5" width="1.11" height="5"/><rect x="198.945" y="226.5" width="1.11" height="5"/><rect x="204.945" y="226.5" width="1.11" height="5"/><rect x="211.945" y="226.5" width="1.11" height="5"/><rect x="217.945" y="226.5" width="1.11" height="5"/><rect x="223.945" y="226.5" width="1.11" height="5"/><rect x="229.945" y="226.5" width="1.11" height="5"/><rect x="235.945" y="226.5" width="1.11" height="5"/><rect x="241.945" y="226.5" width="1.11" height="5"/><rect x="247.945" y="226.5" width="1.11" height="5"/><rect x="253.945" y="226.5" width="1.11" height="5"/><rect x="260.945" y="226.5" width="1.11" height="5"/><rect x="266.945" y="226.5" width="1.11" height="5"/><rect x="272.945" y="226.5" width="1.11" height="5"/><rect x="278.945" y="226.5" width="1.11" height="5"/><rect x="284.945" y="226.5" width="1.11" height="5"/><rect x="290.945" y="226.5" width="1.11" height="5"/><rect x="296.945" y="226.5" width="1.11" height="5"/><rect x="302.945" y="226.5" width="1.11" height="5"/><rect x="309.945" y="226.5" width="1.11" height="5"/><rect x="315.945" y="226.5" width="1.11" height="5"/><rect x="321.945" y="226.5" width="1.11" height="5"/><rect x="327.945" y="226.5" width="1.11" height="5"/><rect x="333.945" y="226.5" width="1.11" height="5"/><rect x="339.945" y="226.5" width="1.11" height="5"/><rect x="345.945" y="226.5" width="1.11" height="5"/><rect x="352.945" y="226.5" width="1.11" height="5"/><rect x="358.945" y="226.5" width="1.11" height="5"/><rect x="364.945" y="226.5" width="1.11" height="5"/><rect x="370.945" y="226.5" width="1.11" height="5"/><rect x="376.945" y="226.5" width="1.11" height="5"/><rect x="382.945" y="226.5" width="1.11" height="5"/><rect x="388.945" y="226.5" width="1.11" height="5"/><rect x="394.945" y="226.5" width="1.11" height="5"/><rect x="401.945" y="226.5" width="1.11" height="5"/><rect x="407.945" y="226.5" width="1.11" height="5"/><rect x="413.945" y="226.5" width="1.11" height="5"/><rect x="419.945" y="226.5" width="1.11" height="5"/><rect x="425.945" y="226.5" width="1.11" height="5"/><rect x="431.945" y="226.5" width="1.11" height="5"/><rect x="437.945" y="226.5" width="1.11" height="5"/><rect x="443.945" y="226.5" width="1.11" height="5"/><rect x="450.945" y="226.5" width="1.11" height="5"/><rect x="456.945" y="226.5" width="1.11" height="5"/><rect x="462.945" y="226.5" width="1.11" height="5"/><rect x="468.945" y="226.5" width="1.11" height="5"/><rect x="474.945" y="226.5" width="1.11" height="5"/><rect x="480.945" y="226.5" width="1.11" height="5"/><rect x="486.945" y="226.5" width="1.11" height="5"/><rect x="492.945" y="226.5" width="1.11" height="5"/><rect x="499.945" y="226.5" width="1.11" height="5"/><rect x="505.945" y="226.5" width="1.11" height="5"/><rect x="511.945" y="226.5" width="1.11" height="5"/><rect x="517.945" y="226.5" width="1.11" height="5"/><rect x="523.945" y="226.5" width="1.11" height="5"/><rect x="529.945" y="226.5" width="1.11" height="5"/><rect x="535.945" y="226.5" width="1.11" height="5"/><rect x="541.945" y="226.5" width="1.11" height="5"/><rect x="548.945" y="226.5" width="1.11" height="5"/><rect x="554.945" y="226.5" width="1.11" height="5"/><rect x="560.945" y="226.5" width="1.11" height="5"/><rect x="566.945" y="226.5" width="1.11" height="5"/><rect x="572.945" y="226.5" width="1.11" height="5"/><rect x="75.5" y="426.945" width="5" height="1.11"/><rect x="75.5" y="383.945" width="5" height="1.11"/><rect x="75.5" y="339.945" width="5" height="1.11"/><rect x="75.5" y="296.945" width="5" height="1.11"/><rect x="82.945" y="427.5" width="1.11" height="5"/><rect x="88.945" y="427.5" width="1.11" height="5"/><rect x="94.945" y="427.5" width="1.11" height="5"/><rect x="100.945" y="427.5" width="1.11" height="5"/><rect x="106.945" y="427.5" width="1.11" height="5"/><rect x="113.945" y="427.5" width="1.11" height="5"/><rect x="119.945" y="427.5" width="1.11" height="5"/><rect x="125.945" y="427.5" width="1.11" height="5"/><rect x="131.945" y="427.5" width="1.11" height="5"/><rect x="137.945" y="427.5" width="1.11" height="5"/><rect x="143.945" y="427.5" width="1.11" height="5"/><rect x="149.945" y="427.5" width="1.11" height="5"/><rect x="155.945" y="427.5" width="1.11" height="5"/><rect x="162.945" y="427.5" width="1.11" height="5"/><rect x="168.945" y="427.5" width="1.11" height="5"/><rect x="174.945" y="427.5" width="1.11" height="5"/><rect x="180.945" y="427.5" width="1.11" height="5"/><rect x="186.945" y="427.5" width="1.11" height="5"/><rect x="192.945" y="427.5" width="1.11" height="5"/><rect x="198.945" y="427.5" width="1.11" height="5"/><rect x="204.945" y="427.5" width="1.11" height="5"/><rect x="211.945" y="427.5" width="1.11" height="5"/><rect x="217.945" y="427.5" width="1.11" height="5"/><rect x="223.945" y="427.5" width="1.11" height="5"/><rect x="229.945" y="427.5" width="1.11" height="5"/><rect x="235.945" y="427.5" width="1.11" height="5"/><rect x="241.945" y="427.5" width="1.11" height="5"/><rect x="247.945" y="427.5" width="1.11" height="5"/><rect x="253.945" y="427.5" width="1.11" height="5"/><rect x="260.945" y="427.5" width="1.11" height="5"/><rect x="266.945" y="427.5" width="1.11" height="5"/><rect x="272.945" y="427.5" width="1.11" height="5"/><rect x="278.945" y="427.5" width="1.11" height="5"/><rect x="284.945" y="427.5" width="1.11" height="5"/><rect x="290.945" y="427.5" width="1.11" height="5"/><rect x="296.945" y="427.5" width="1.11" height="5"/><rect x="302.945" y="427.5" width="1.11" height="5"/><rect x="309.945" y="427.5" width="1.11" height="5"/><rect x="315.945" y="427.5" width="1.11" height="5"/><rect x="321.945" y="427.5" width="1.11" height="5"/><rect x="327.945" y="427.5" width="1.11" height="5"/><rect x="333.945" y="427.5" width="1.11" height="5"/><rect x="339.945" y="427.5" width="1.11" height="5"/><rect x="345.945" y="427.5" width="1.11" height="5"/><rect x="352.945" y="427.5" width="1.11" height="5"/><rect x="358.945" y="427.5" width="1.11" height="5"/><rect x="364.945" y="427.5" width="1.11" height="5"/><rect x="370.945" y="427.5" width="1.11" height="5"/><rect x="376.945" y="427.5" width="1.11" height="5"/><rect x="382.945" y="427.5" width="1.11" height="5"/><rect x="388.945" y="427.5" width="1.11" height="5"/><rect x="394.945" y="427.5" width="1.11" height="5"/><rect x="401.945" y="427.5" width="1.11" height="5"/><rect x="407.945" y="427.5" width="1.11" height="5"/><rect x="413.945" y="427.5" width="1.11" height="5"/><rect x="419.945" y="427.5" width="1.11" height="5"/><rect x="425.945" y="427.5" width="1.11" height="5"/><rect x="431.945" y="427.5" width="1.11" height="5"/><rect x="437.945" y="427.5" width="1.11" height="5"/><rect x="443.945" y="427.5" width="1.11" height="5"/><rect x="450.945" y="427.5" width="1.11" height="5"/><rect x="456.945" y="427.5" width="1.11" height="5"/><rect x="462.945" y="427.5" width="1.11" height="5"/><rect x="468.945" y="427.5" width="1.11" height="5"/><rect x="474.945" y="427.5" width="1.11" height="5"/><rect x="480.945" y="427.5" width="1.11" height="5"/><rect x="486.945" y="427.5" width="1.11" height="5"/><rect x="492.945" y="427.5" width="1.11" height="5"/><rect x="499.945" y="427.5" width="1.11" height="5"/><rect x="505.945" y="427.5" width="1.11" height="5"/><rect x="511.945" y="427.5" width="1.11" height="5"/><rect x="517.945" y="427.5" width="1.11" height="5"/><rect x="523.945" y="427.5" width="1.11" height="5"/><rect x="529.945" y="427.5" width="1.11" height="5"/><rect x="535.945" y="427.5" width="1.11" height="5"/><rect x="541.945" y="427.5" width="1.11" height="5"/><rect x="548.945" y="427.5" width="1.11" height="5"/><rect x="554.945" y="427.5" width="1.11" height="5"/><rect x="560.945" y="427.5" width="1.11" height="5"/><rect x="566.945" y="427.5" width="1.11" height="5"/><rect x="572.945" y="427.5" width="1.11" height="5"/></g>
<use href="#gC" fill="#0000ff" transform="matrix(0.00582 0 0 -0.00260 80.000 225.600)"/>
<path fill="#ff0000" d="M80 220L86 220L86 221L84 221L84 223L82 223L82 221L80 221L80 220Z"/>
<use href="#gG" fill="#ffa500" transform="matrix(0.00582 0 0 -0.00825 80.000 220.000)"/>
<use href="#gA" fill="#008000" transform="matrix(0.00582 0 0 -0.00875 80.000 211.750)"/>
<use href="#gA" fill="#008000" transform="matrix(0.00582 0 0 -0.00140 86.127 225.600)"/>
<path fill="#ff0000" d="M86 223L92 223L92 223L90 223L90 224L88 224L88 223L86 223L86 223Z"/>
<use href="#gG" fill="#ffa500" transform="matrix(0.00582 0 0 -0.00170 86.127 223.200)"/>
<use href="#gC" fill="#0000ff" transform="matrix(0.00582 0 0 -0.00300 86.127 221.500)"/>
<use href="#gC" fill="#0000ff" transform="matrix(0.00582 0 0 -0.00280 92.254 225.600)"/>
<use href="#gA" fill="#008000" transform="matrix(0.00582 0 0 -0.00450 92.254 222.800)"/>
<use href="#gG" fill="#ffa500" transform="matrix(0.00582 0 0 -0.00800 92.254 218.300)"/>
<path fill="#ff0000" d="M92 195L98 195L98 198L96 198L96 210L94 210L94 198L92 198L92 195Z"/>
<path fill="#ff0000" d="M98 223L104 223L104 224L102 224L102 226L100 226L100 224L98 224L98 223Z"/>
<use href="#gC" fill="#0000ff" transform="matrix(0.00582 0 0 -0.00400 98.382 223.200)"/>
<use href="#gA" fill="#008000" transform="matrix(0.00582 0 0 -0.00970 98.382 219.200)"/>
<use href="#gG" fill="#ffa500" transform="matrix(0.00582 0 0 -0.01260 98.382 209.500)"/>
<use href="#gA" fill="#008000" transform="matrix(0.00582 0 0 -0.00280 104.509 225.600)"/>
<use href="#gC" fill="#0000ff" transform="matrix(0.00582 0 0 -0.00260 104.509 222.800)"/>
<path fill="#ff0000" d="M105 213L110 213L110 215L108 215L108 220L107 220L107 215L105 215L105 213Z"/>
<use href="#gG" fill="#ffa500" transform="matrix(0.00582 0 0 -0.00880 104.509 213.300)"/>
<use href="#gC" fill="#0000ff" transform="matrix(0.00582 0 0 -0.00330 110.636 225.600)"/>
<path fill="#ff0000" d="M111 218L116 218L116 219L114 219L114 222L113 222L113 219L111 219L111 218Z"/>
<use href="#gG" fill="#ffa500" transform="matrix(0.00582 0 0 -0.00560 110.636 218.300)"/>
<use href="#gA" fill="#008000" transform="matrix(0.00582 0 0 -0.01400 110.636 212.700)"/>
<use href="#gG" fill="#ffa500" transform="matrix(0.00582 0 0 -0.00060 116.763 225.600)"/>
<use href="#gA" fill="#008000" transform="matrix(0.00582 0 0 -0.00080 116.763 225.000)"/>
<use href="#gC" fill="#0000ff" transform="matrix(0.00582 0 0 -0.00160 116.763 224.200)"/>
<use href="#gC" fill="#0000ff" transform="matrix(0.00582 0 0 -0.00340 122.891 225.600)"/>
<path fill="#ff0000" d="M123 219L129 219L129 219L127 219L127 222L125 222L125 219L123 219L123 219Z"/>
<use href="#gA" fill="#008000" transform="matrix(0.00582 0 0 -0.00530 122.891 218.700)"/>
<use href="#gG" fill="#ffa500" transform="matrix(0.00582 0 0 -0.01130 122.891 213.400)"/>
<use href="#gC" fill="#0000ff" transform="matrix(0.00582 0 0 -0.00080 129.018 225.600)"/>
<path fill="#ff0000" d="M129 223L135 223L135 224L133 224L133 225L131 225L131 224L129 224L129 223Z"/>
<use href="#gA" fill="#008000" transform="matrix(0.00582 0 0 -0.00110 129.018 223.200)"/>
<use href="#gG" fill="#ffa500" transform="matrix(0.00582 0 0 -0.00220 129.018 222.100)"/>
<use href="#gC" fill="#0000ff" transform="matrix(0.00582 0 0 -0.00090 135.145 225.600)"/>
<use href="#gG" fill="#ffa500" transform="matrix(0.00582 0 0 -0.00150 135.145 224.700)"/>
<use href="#gA" fill="#008000" transform="matrix(0.00582 0 0 -0.00220 135.145 223.200)"/>
<path fill="#ff0000" d="M135 218L141 218L141 219L139 219L139 221L137 221L137 219L135 219L135 218Z"/>
<use href="#gC" fill="#0000ff" transform="matrix(0.00582 0 0 -0.00060 141.272 225.600)"/>
<use href="#gG" fill="#ffa500" transform="matrix(0.00582 0 0 -0.00070 141.272 225.000)"/>
<use href="#gA" fill="#008000" transform="matrix(0.00582 0 0 -0.00080 147.400 225.600)"/>
<path fill="#ff0000" d="M147 224L153 224L153 224L151 224L151 225L149 225L149 224L147 224L147 224Z"/>
<use href="#gC" fill="#0000ff" transform="matrix(0.00582 0 0 -0.00100 147.400 224.000)"/>
<use href="#gG" fill="#ffa500" transform="matrix(0.00582 0 0 -0.00150 147.400 223.000)"/>
<use href="#gA" fill="#008000" transform="matrix(0.00582 0 0 -0.00180 153.527 225.600)"/>
<use href="#gG" fill="#ffa500" transform="matrix(0.00582 0 0 -0.00220 153.527 223.800)"/>
<use href="#gC" fill="#0000ff" transform="matrix(0.00582 0 0 -0.00360 153.527 221.600)"/>
<path fill="#ff0000" d="M154 214L159 214L159 215L157 215L157 218L156 218L156 215L154 215L154 214Z"/>
<path fill="#ff0000" d="M160 223L165 223L165 223L163 223L163 226L162 226L162 223L160 223L160 223Z"/>
<use href="#gA" fill="#008000" transform="matrix(0.00582 0 0 -0.00340 159.654 222.700)"/>
<use href="#gG" fill="#ffa500" transform="matrix(0.00582 0 0 -0.00340 159.654 219.300)"/>
<use href="#gC" fill="#0000ff" transform="matrix(0.00582 0 0 -0.00880 159.654 215.900)"/>
<use href="#gA" fill="#008000" transform="matrix(0.00582 0 0 -0.00090 165.781 225.600)"/>
<path fill="#ff0000" d="M166 224L172 224L172 224L170 224L170 225L168 225L168 224L166 224L166 224Z"/>
<use href="#gC" fill="#0000ff" transform="matrix(0.00582 0 0 -0.00130 165.781 223.800)"/>
<use href="#gG" fill="#ffa500" transform="matrix(0.00582 0 0 -0.00220 165.781 222.500)"/>
<use href="#gG" fill="#ffa500" transform="matrix(0.00582 0 0 -0.00080 171.909 225.600)"/>
<use href="#gC" fill="#0000ff" transform="matrix(0.00582 0 0 -0.00080 171.909 224.800)"/>
<path fill="#ff0000" d="M172 223L178 223L178 223L176 223L176 224L174 224L174 223L172 223L172 223Z"/>
<use href="#gC" fill="#0000ff" transform="matrix(0.00582 0 0 -0.00030 178.036 225.600)"/>
<use href="#gG" fill="#ffa500" transform="matrix(0.00582 0 0 -0.00040 178.036 225.300)"/>
<path fill="#ff0000" d="M184 224L190 224L190 224L188 224L188 226L186 226L186 224L184 224L184 224Z"/>
<use href="#gC" fill="#0000ff" transform="matrix(0.00582 0 0 -0.00190 184.163 223.800)"/>
<use href="#gA" fill="#008000" transform="matrix(0.00582 0 0 -0.00190 184.163 221.900)"/>
<use href="#gG" fill="#ffa500" transform="matrix(0.00582 0 0 -0.00410 184.163 220.000)"/>
<use href="#gG" fill="#ffa500" transform="matrix(0.00582 0 0 -0.00090 190.290 225.600)"/>
<use href="#gC" fill="#0000ff" transform="matrix(0.00582 0 0 -0.00120 190.290 224.700)"/>
<path fill="#ff0000" d="M190 222L196 222L196 222L194 222L194 224L192 224L192 222L190 222L190 222Z"/>
<use href="#gA" fill="#008000" transform="matrix(0.00582 0 0 -0.00190 190.290 221.900)"/>
<path fill="#ff0000" d="M196 225L202 225L202 225L200 225L200 226L199 226L199 225L196 225L196 225Z"/>
<use href="#gA" fill="#008000" transform="matrix(0.00582 0 0 -0.00070 196.418 224.800)"/>
<use href="#gC" fill="#0000ff" transform="matrix(0.00582 0 0 -0.00100 196.418 224.100)"/>
<use href="#gC" fill="#0000ff" transform="matrix(0.00582 0 0 -0.00340 202.545 225.600)"/>
<path fill="#ff0000" d="M203 217L208 217L208 218L206 218L206 222L205 222L205 218L203 218L203 217Z"/>
<use href="#gA" fill="#008000" transform="matrix(0.00582 0 0 -0.00660 202.545 216.900)"/>
<use href="#gG" fill="#ffa500" transform="matrix(0.00582 0 0 -0.01770 202.545 210.300)"/>
<use href="#gG" fill="#ffa500" transform="matrix(0.00582 0 0 -0.00160 208.672 225.600)"/>
<path fill="#ff0000" d="M209 221L214 221L214 222L212 222L212 224L211 224L211 222L209 222L209 221Z"/>
<use href="#gA" fill="#008000" transform="matrix(0.00582 0 0 -0.00500 208.672 221.200)"/>
<use href="#gC" fill="#0000ff" transform="matrix(0.00582 0 0 -0.00530 208.672 216.200)"/>
<use href="#gA" fill="#008000" transform="matrix(0.00582 0 0 -0.00120 214.799 225.600)"/>
<use href="#gG" fill="#ffa500" transform="matrix(0.00582 0 0 -0.00100 214.799 224.400)"/>
<path fill="#ff0000" d="M215 222L221 222L221 222L219 222L219 223L217 223L217 222L215 222L215 222Z"/>
<use href="#gC" fill="#0000ff" transform="matrix(0.00582 0 0 -0.00280 214.799 222.100)"/>
<use href="#gC" fill="#0000ff" transform="matrix(0.00582 0 0 -0.00090 220.926 225.600)"/>
<path fill="#ff0000" d="M221 224L227 224L227 224L225 224L225 225L223 225L223 224L221 224L221 224Z"/>
<use href="#gA" fill="#008000" transform="matrix(0.00582 0 0 -0.00120 220.926 223.800)"/>
<use href="#gG" fill="#ffa500" transform="matrix(0.00582 0 0 -0.00220 220.926 222.600)"/>
<path fill="#ff0000" d="M227 224L233 224L233 224L231 224L231 226L229 226L229 224L227 224L227 224Z"/>
<use href="#gG" fill="#ffa500" transform="matrix(0.00582 0 0 -0.00160 227.054 223.600)"/>
<use href="#gC" fill="#0000ff" transform="matrix(0.00582 0 0 -0.00250 227.054 222.000)"/>
<use href="#gA" fill="#008000" transform="matrix(0.00582 0 0 -0.00500 227.054 219.500)"/>
<use href="#gG" fill="#ffa500" transform="matrix(0.00582 0 0 -0.00190 233.181 225.600)"/>
<use href="#gA" fill="#008000" transform="matrix(0.00582 0 0 -0.00130 233.181 223.700)"/>
<use href="#gC" fill="#0000ff" transform="matrix(0.00582 0 0 -0.00210 233.181 222.400)"/>
<path fill="#ff0000" d="M233 217L239 217L239 218L237 218L237 220L235 220L235 218L233 218L233 217Z"/>
<use href="#gC" fill="#0000ff" transform="matrix(0.00582 0 0 -0.00100 239.308 225.600)"/>
<path fill="#ff0000" d="M239 223L245 223L245 223L243 223L243 225L241 225L241 223L239 223L239 223Z"/>
<use href="#gA" fill="#008000" transform="matrix(0.00582 0 0 -0.00160 239.308 222.500)"/>
<use href="#gG" fill="#ffa500" transform="matrix(0.00582 0 0 -0.00300 239.308 220.900)"/>
<path fill="#ff0000" d="M245 225L251 225L251 225L249 225L249 226L248 226L248 225L245 225L245 225Z"/>
<use href="#gC" fill="#0000ff" transform="matrix(0.00582 0 0 -0.00100 245.435 224.600)"/>
<use href="#gA" fill="#008000" transform="matrix(0.00582 0 0 -0.00080 245.435 223.600)"/>
<use href="#gC" fill="#0000ff" transform="matrix(0.00582 0 0 -0.00090 251.563 225.600)"/>
<use href="#gG" fill="#ffa500" transform="matrix(0.00582 0 0 -0.00090 251.563 224.700)"/>
<use href="#gA" fill="#008000" transform="matrix(0.00582 0 0 -0.00090 251.563 223.800)"/>
<path fill="#ff0000" d="M252 221L257 221L257 222L255 222L255 223L254 223L254 222L252 222L252 221Z"/>
<use href="#gA" fill="#008000" transform="matrix(0.00582 0 0 -0.00030 257.690 225.600)"/>
<use href="#gG" fill="#ffa500" transform="matrix(0.00582 0 0 -0.00040 257.690 225.300)"/>
<path fill="#ff0000" d="M258 224L264 224L264 224L261 224L261 225L260 225L260 224L258 224L258 224Z"/>
<use href="#gC" fill="#0000ff" transform="matrix(0.00582 0 0 -0.00160 263.817 225.600)"/>
<path fill="#ff0000" d="M264 222L270 222L270 222L268 222L268 224L266 224L266 222L264 222L264 222Z"/>
<use href="#gA" fill="#008000" transform="matrix(0.00582 0 0 -0.00410 263.817 222.100)"/>
<use href="#gG" fill="#ffa500" transform="matrix(0.00582 0 0 -0.00500 263.817 218.000)"/>
<use href="#gG" fill="#ffa500" transform="matrix(0.00582 0 0 -0.00020 269.944 225.600)"/>
<path fill="#ff0000" d="M270 224L276 224L276 225L274 225L274 225L272 225L272 225L270 225L270 224Z"/>
<use href="#gG" fill="#ffa500" transform="matrix(0.00582 0 0 -0.00080 276.072 225.600)"/>
<use href="#gA" fill="#008000" transform="matrix(0.00582 0 0 -0.00160 276.072 224.800)"/>
<use href="#gC" fill="#0000ff" transform="matrix(0.00582 0 0 -0.00200 276.072 223.200)"/>
<path fill="#ff0000" d="M276 219L282 219L282 219L280 219L280 221L278 221L278 219L276 219L276 219Z"/>
<use href="#gC" fill="#0000ff" transform="matrix(0.00582 0 0 -0.00030 282.199 225.600)"/>
<use href="#gA" fill="#008000" transform="matrix(0.00582 0 0 -0.00030 282.199 225.300)"/>
<use href="#gG" fill="#ffa500" transform="matrix(0.00582 0 0 -0.00040 288.326 225.600)"/>
<use href="#gA" fill="#008000" transform="matrix(0.00582 0 0 -0.00040 288.326 225.200)"/>
<use href="#gC" fill="#0000ff" transform="matrix(0.00582 0 0 -0.00060 288.326 224.800)"/>
<use href="#gC" fill="#0000ff" transform="matrix(0.00582 0 0 -0.00080 294.453 225.600)"/>
<use href="#gA" fill="#008000" transform="matrix(0.00582 0 0 -0.00080 294.453 224.800)"/>
<path fill="#ff0000" d="M294 223L300 223L300 223L298 223L298 224L297 224L297 223L294 223L294 223Z"/>
<use href="#gG" fill="#ffa500" transform="matrix(0.00582 0 0 -0.00160 294.453 223.100)"/>
<use href="#gA" fill="#008000" transform="matrix(0.00582 0 0 -0.00080 300.581 225.600)"/>
<use href="#gC" fill="#0000ff" transform="matrix(0.00582 0 0 -0.00080 300.581 224.800)"/>
<use href="#gG" fill="#ffa500" transform="matrix(0.00582 0 0 -0.00070 300.581 224.000)"/>
<path fill="#ff0000" d="M301 221L306 221L306 222L304 222L304 223L303 223L303 222L301 222L301 221Z"/>
<use href="#gA" fill="#008000" transform="matrix(0.00582 0 0 -0.00340 306.708 225.600)"/>
<path fill="#ff0000" d="M307 218L313 218L313 219L310 219L310 222L309 222L309 219L307 219L307 218Z"/>
<use href="#gG" fill="#ffa500" transform="matrix(0.00582 0 0 -0.00490 306.708 218.000)"/>
<use href="#gC" fill="#0000ff" transform="matrix(0.00582 0 0 -0.01310 306.708 213.100)"/>
<use href="#gA" fill="#008000" transform="matrix(0.00582 0 0 -0.00340 312.835 225.600)"/>
<use href="#gC" fill="#0000ff" transform="matrix(0.00582 0 0 -0.00420 312.835 222.200)"/>
<path fill="#ff0000" d="M313 212L319 212L319 213L317 213L317 218L315 218L315 213L313 213L313 212Z"/>
<use href="#gG" fill="#ffa500" transform="matrix(0.00582 0 0 -0.01510 312.835 212.000)"/>
<use href="#gG" fill="#ffa500" transform="matrix(0.00582 0 0 -0.00070 318.962 225.600)"/>
<use href="#gA" fill="#008000" transform="matrix(0.00582 0 0 -0.00070 318.962 224.900)"/>
<path fill="#ff0000" d="M319 223L325 223L325 223L323 223L323 224L321 224L321 223L319 223L319 223Z"/>
<use href="#gC" fill="#0000ff" transform="matrix(0.00582 0 0 -0.00130 318.962 223.200)"/>
<use href="#gG" fill="#ffa500" transform="matrix(0.00582 0 0 -0.00280 325.090 225.600)"/>
<use href="#gA" fill="#008000" transform="matrix(0.00582 0 0 -0.00340 325.090 222.800)"/>
<use href="#gC" fill="#0000ff" transform="matrix(0.00582 0 0 -0.00400 325.090 219.400)"/>
<path fill="#ff0000" d="M325 206L331 206L331 208L329 208L329 215L327 215L327 208L325 208L325 206Z"/>
<use href="#gG" fill="#ffa500" transform="matrix(0.00582 0 0 -0.00090 331.217 225.600)"/>
<use href="#gC" fill="#0000ff" transform="matrix(0.00582 0 0 -0.00120 331.217 224.700)"/>
<use href="#gA" fill="#008000" transform="matrix(0.00582 0 0 -0.00160 331.217 223.500)"/>
<path fill="#ff0000" d="M331 220L337 220L337 220L335 220L335 222L333 222L333 220L331 220L331 220Z"/>
<use href="#gC" fill="#0000ff" transform="matrix(0.00582 0 0 -0.00470 337.344 225.600)"/>
<use href="#gA" fill="#008000" transform="matrix(0.00582 0 0 -0.00500 337.344 220.900)"/>
<use href="#gG" fill="#ffa500" transform="matrix(0.00582 0 0 -0.00690 337.344 215.900)"/>
<path fill="#ff0000" d="M337 186L343 186L343 190L341 190L341 209L339 209L339 190L337 190L337 186Z"/>
<path fill="#ff0000" d="M343 223L349 223L349 223L347 223L347 226L346 226L346 223L343 223L343 223Z"/>
<use href="#gA" fill="#008000" transform="matrix(0.00582 0 0 -0.00590 343.471 222.800)"/>
<use href="#gG" fill="#ffa500" transform="matrix(0.00582 0 0 -0.00650 343.471 216.900)"/>
<use href="#gC" fill="#0000ff" transform="matrix(0.00582 0 0 -0.01520 343.471 210.400)"/>
<path fill="#ff0000" d="M350 224L355 224L355 224L353 224L353 226L352 226L352 224L350 224L350 224Z"/>
<use href="#gA" fill="#008000" transform="matrix(0.00582 0 0 -0.00280 349.599 223.800)"/>
<use href="#gC" fill="#0000ff" transform="matrix(0.00582 0 0 -0.00160 349.599 221.000)"/>
<use href="#gG" fill="#ffa500" transform="matrix(0.00582 0 0 -0.00440 349.599 219.400)"/>
<use href="#gG" fill="#ffa500" transform="matrix(0.00582 0 0 -0.00090 355.726 225.600)"/>
<path fill="#ff0000" d="M356 224L362 224L362 224L359 224L359 225L358 225L358 224L356 224L356 224Z"/>
<use href="#gC" fill="#0000ff" transform="matrix(0.00582 0 0 -0.00110 355.726 223.800)"/>
<use href="#gA" fill="#008000" transform="matrix(0.00582 0 0 -0.00190 355.726 222.700)"/>
<use href="#gC" fill="#0000ff" transform="matrix(0.00582 0 0 -0.00250 361.853 225.600)"/>
<use href="#gG" fill="#ffa500" transform="matrix(0.00582 0 0 -0.00290 361.853 223.100)"/>
<use href="#gA" fill="#008000" transform="matrix(0.00582 0 0 -0.00400 361.853 220.200)"/>
<path fill="#ff0000" d="M362 208L368 208L368 210L366 210L366 216L364 216L364 210L362 210L362 208Z"/>
<use href="#gA" fill="#008000" transform="matrix(0.00582 0 0 -0.00060 367.980 225.600)"/>
<path fill="#ff0000" d="M368 224L374 224L374 224L372 224L372 225L370 225L370 224L368 224L368 224Z"/>
<use href="#gC" fill="#0000ff" transform="matrix(0.00582 0 0 -0.00080 367.980 223.900)"/>
<use href="#gG" fill="#ffa500" transform="matrix(0.00582 0 0 -0.00190 367.980 223.100)"/>
<use href="#gG" fill="#ffa500" transform="matrix(0.00582 0 0 -0.00060 374.107 225.600)"/>
<path fill="#ff0000" d="M374 224L380 224L380 224L378 224L378 225L376 225L376 224L374 224L374 224Z"/>
<use href="#gA" fill="#008000" transform="matrix(0.00582 0 0 -0.00100 374.107 223.900)"/>
<use href="#gC" fill="#0000ff" transform="matrix(0.00582 0 0 -0.00160 374.107 222.900)"/>
<use href="#gC" fill="#0000ff" transform="matrix(0.00582 0 0 -0.00220 380.235 225.600)"/>
<use href="#gA" fill="#008000" transform="matrix(0.00582 0 0 -0.00370 380.235 223.400)"/>
<use href="#gG" fill="#ffa500" transform="matrix(0.00582 0 0 -0.00370 380.235 219.700)"/>
<path fill="#ff0000" d="M380 207L386 207L386 209L384 209L384 216L382 216L382 209L380 209L380 207Z"/>
<use href="#gC" fill="#0000ff" transform="matrix(0.00582 0 0 -0.00220 386.362 225.600)"/>
<use href="#gA" fill="#008000" transform="matrix(0.00582 0 0 -0.00340 386.362 223.400)"/>
<path fill="#ff0000" d="M386 214L392 214L392 215L390 215L390 220L388 220L388 215L386 215L386 214Z"/>
<use href="#gG" fill="#ffa500" transform="matrix(0.00582 0 0 -0.00970 386.362 214.100)"/>
<use href="#gG" fill="#ffa500" transform="matrix(0.00582 0 0 -0.00190 392.489 225.600)"/>
<path fill="#ff0000" d="M392 221L398 221L398 222L396 222L396 224L395 224L395 222L392 222L392 221Z"/>
<use href="#gC" fill="#0000ff" transform="matrix(0.00582 0 0 -0.00410 392.489 221.000)"/>
<use href="#gA" fill="#008000" transform="matrix(0.00582 0 0 -0.00600 392.489 216.900)"/>
<use href="#gA" fill="#008000" transform="matrix(0.00582 0 0 -0.00250 398.616 225.600)"/>
<use href="#gG" fill="#ffa500" transform="matrix(0.00582 0 0 -0.00340 398.616 223.100)"/>
<use href="#gC" fill="#0000ff" transform="matrix(0.00582 0 0 -0.00380 398.616 219.700)"/>
<path fill="#ff0000" d="M399 207L404 207L404 209L402 209L402 216L401 216L401 209L399 209L399 207Z"/>
<use href="#gC" fill="#0000ff" transform="matrix(0.00582 0 0 -0.00220 404.744 225.600)"/>
<use href="#gA" fill="#008000" transform="matrix(0.00582 0 0 -0.00440 404.744 223.400)"/>
<use href="#gG" fill="#ffa500" transform="matrix(0.00582 0 0 -0.00530 404.744 219.000)"/>
<path fill="#ff0000" d="M405 203L411 203L411 205L408 205L408 214L407 214L407 205L405 205L405 203Z"/>
<path fill="#ff0000" d="M411 224L417 224L417 225L415 225L415 226L413 226L413 225L411 225L411 224Z"/>
<use href="#gC" fill="#0000ff" transform="matrix(0.00582 0 0 -0.00330 410.871 224.300)"/>
<use href="#gG" fill="#ffa500" transform="matrix(0.00582 0 0 -0.00450 410.871 221.000)"/>
<use href="#gA" fill="#008000" transform="matrix(0.00582 0 0 -0.00490 410.871 216.500)"/>
<use href="#gG" fill="#ffa500" transform="matrix(0.00582 0 0 -0.00280 416.998 225.600)"/>
<use href="#gA" fill="#008000" transform="matrix(0.00582 0 0 -0.00500 416.998 222.800)"/>
<use href="#gC" fill="#0000ff" transform="matrix(0.00582 0 0 -0.00970 416.998 217.800)"/>
<path fill="#ff0000" d="M417 186L423 186L423 191L421 191L421 208L419 208L419 191L417 191L417 186Z"/>
<use href="#gA" fill="#008000" transform="matrix(0.00582 0 0 -0.00100 423.125 225.600)"/>
<use href="#gG" fill="#ffa500" transform="matrix(0.00582 0 0 -0.00120 423.125 224.600)"/>
<path fill="#ff0000" d="M423 222L429 222L429 222L427 222L427 223L425 223L425 222L423 222L423 222Z"/>
<use href="#gC" fill="#0000ff" transform="matrix(0.00582 0 0 -0.00260 423.125 222.100)"/>
<use href="#gG" fill="#ffa500" transform="matrix(0.00582 0 0 -0.00160 429.253 225.600)"/>
<path fill="#ff0000" d="M429 222L435 222L435 222L433 222L433 224L431 224L431 222L429 222L429 222Z"/>
<use href="#gA" fill="#008000" transform="matrix(0.00582 0 0 -0.00310 429.253 222.100)"/>
<use href="#gC" fill="#0000ff" transform="matrix(0.00582 0 0 -0.00440 429.253 219.000)"/>
<use href="#gC" fill="#0000ff" transform="matrix(0.00582 0 0 -0.00470 435.380 225.600)"/>
<path fill="#ff0000" d="M435 216L441 216L441 217L439 217L439 221L437 221L437 217L435 217L435 216Z"/>
<use href="#gG" fill="#ffa500" transform="matrix(0.00582 0 0 -0.00660 435.380 215.900)"/>
<use href="#gA" fill="#008000" transform="matrix(0.00582 0 0 -0.02130 435.380 209.300)"/>
<use href="#gC" fill="#0000ff" transform="matrix(0.00582 0 0 -0.00250 441.507 225.600)"/>
<use href="#gA" fill="#008000" transform="matrix(0.00582 0 0 -0.00500 441.507 223.100)"/>
<path fill="#ff0000" d="M442 202L447 202L447 205L445 205L445 218L444 218L444 205L442 205L442 202Z"/>
<use href="#gG" fill="#ffa500" transform="matrix(0.00582 0 0 -0.03060 441.507 201.800)"/>
<use href="#gC" fill="#0000ff" transform="matrix(0.00582 0 0 -0.00050 447.634 225.600)"/>
<use href="#gA" fill="#008000" transform="matrix(0.00582 0 0 -0.00060 447.634 225.100)"/>
<use href="#gG" fill="#ffa500" transform="matrix(0.00582 0 0 -0.00060 447.634 224.500)"/>
<path fill="#ff0000" d="M448 223L453 223L453 223L451 223L451 224L450 224L450 223L448 223L448 223Z"/>
<use href="#gC" fill="#0000ff" transform="matrix(0.00582 0 0 -0.00050 453.762 225.600)"/>
<use href="#gA" fill="#008000" transform="matrix(0.00582 0 0 -0.00100 453.762 225.100)"/>
<use href="#gG" fill="#ffa500" transform="matrix(0.00582 0 0 -0.00100 453.762 224.100)"/>
<path fill="#ff0000" d="M454 221L460 221L460 222L457 222L457 223L456 223L456 222L454 222L454 221Z"/>
<use href="#gA" fill="#008000" transform="matrix(0.00582 0 0 -0.00250 459.889 225.600)"/>
<use href="#gC" fill="#0000ff" transform="matrix(0.00582 0 0 -0.00220 459.889 223.100)"/>
<path fill="#ff0000" d="M460 218L466 218L466 219L464 219L464 221L462 221L462 219L460 219L460 218Z"/>
<use href="#gG" fill="#ffa500" transform="matrix(0.00582 0 0 -0.00560 459.889 218.100)"/>
<path fill="#ff0000" d="M466 224L472 224L472 225L470 225L470 226L468 226L468 225L466 225L466 224Z"/>
<use href="#gC" fill="#0000ff" transform="matrix(0.00582 0 0 -0.00530 466.016 224.300)"/>
<use href="#gA" fill="#008000" transform="matrix(0.00582 0 0 -0.00720 466.016 219.000)"/>
<use href="#gG" fill="#ffa500" transform="matrix(0.00582 0 0 -0.00840 466.016 211.800)"/>
<use href="#gG" fill="#ffa500" transform="matrix(0.00582 0 0 -0.00160 472.143 225.600)"/>
<use href="#gA" fill="#008000" transform="matrix(0.00582 0 0 -0.00500 472.143 224.000)"/>
<path fill="#ff0000" d="M472 213L478 213L478 214L476 214L476 219L474 219L474 214L472 214L472 213Z"/>
<use href="#gC" fill="#0000ff" transform="matrix(0.00582 0 0 -0.00970 472.143 212.800)"/>
<use href="#gA" fill="#008000" transform="matrix(0.00582 0 0 -0.00590 478.271 225.600)"/>
<use href="#gG" fill="#ffa500" transform="matrix(0.00582 0 0 -0.00690 478.271 219.700)"/>
<path fill="#ff0000" d="M478 205L484 205L484 207L482 207L482 213L480 213L480 207L478 207L478 205Z"/>
<use href="#gC" fill="#0000ff" transform="matrix(0.00582 0 0 -0.04260 478.271 205.000)"/>
<use href="#gC" fill="#0000ff" transform="matrix(0.00582 0 0 -0.00160 484.398 225.600)"/>
<use href="#gA" fill="#008000" transform="matrix(0.00582 0 0 -0.00410 484.398 224.000)"/>
<path fill="#ff0000" d="M484 215L490 215L490 216L488 216L488 220L486 220L486 216L484 216L484 215Z"/>
<use href="#gG" fill="#ffa500" transform="matrix(0.00582 0 0 -0.00590 484.398 214.600)"/>
<use href="#gA" fill="#008000" transform="matrix(0.00582 0 0 -0.00190 490.525 225.600)"/>
<use href="#gG" fill="#ffa500" transform="matrix(0.00582 0 0 -0.00160 490.525 223.700)"/>
<path fill="#ff0000" d="M491 221L496 221L496 221L494 221L494 222L493 222L493 221L491 221L491 221Z"/>
<use href="#gC" fill="#0000ff" transform="matrix(0.00582 0 0 -0.00410 490.525 220.900)"/>
<path fill="#ff0000" d="M497 223L502 223L502 224L500 224L500 226L499 226L499 224L497 224L497 223Z"/>
<use href="#gG" fill="#ffa500" transform="matrix(0.00582 0 0 -0.00380 496.652 223.100)"/>
<use href="#gC" fill="#0000ff" transform="matrix(0.00582 0 0 -0.00500 496.652 219.300)"/>
<use href="#gA" fill="#008000" transform="matrix(0.00582 0 0 -0.01000 496.652 214.300)"/>
<use href="#gG" fill="#ffa500" transform="matrix(0.00582 0 0 -0.00040 502.779 225.600)"/>
<use href="#gA" fill="#008000" transform="matrix(0.00582 0 0 -0.00050 502.779 225.200)"/>
<use href="#gC" fill="#0000ff" transform="matrix(0.00582 0 0 -0.00080 508.907 225.600)"/>
<path fill="#ff0000" d="M509 223L515 223L515 224L513 224L513 225L511 225L511 224L509 224L509 223Z"/>
<use href="#gA" fill="#008000" transform="matrix(0.00582 0 0 -0.00130 508.907 223.200)"/>
<use href="#gG" fill="#ffa500" transform="matrix(0.00582 0 0 -0.00190 508.907 221.900)"/>
<use href="#gC" fill="#0000ff" transform="matrix(0.00582 0 0 -0.00190 515.034 225.600)"/>
<use href="#gG" fill="#ffa500" transform="matrix(0.00582 0 0 -0.00190 515.034 223.700)"/>
<path fill="#ff0000" d="M515 219L521 219L521 219L519 219L519 222L517 222L517 219L515 219L515 219Z"/>
<use href="#gA" fill="#008000" transform="matrix(0.00582 0 0 -0.00500 515.034 218.900)"/>
<use href="#gG" fill="#ffa500" transform="matrix(0.00582 0 0 -0.00250 521.161 225.600)"/>
<use href="#gC" fill="#0000ff" transform="matrix(0.00582 0 0 -0.00500 521.161 223.100)"/>
<use href="#gA" fill="#008000" transform="matrix(0.00582 0 0 -0.00690 521.161 218.100)"/>
<path fill="#ff0000" d="M521 196L527 196L527 199L525 199L525 211L523 211L523 199L521 199L521 196Z"/>
<path fill="#ff0000" d="M527 220L533 220L533 221L531 221L531 226L529 226L529 221L527 221L527 220Z"/>
<use href="#gC" fill="#0000ff" transform="matrix(0.00582 0 0 -0.00590 527.288 220.000)"/>
<use href="#gA" fill="#008000" transform="matrix(0.00582 0 0 -0.01060 527.288 214.100)"/>
<use href="#gG" fill="#ffa500" transform="matrix(0.00582 0 0 -0.06410 527.288 203.500)"/>
<use href="#gA" fill="#008000" transform="matrix(0.00582 0 0 -0.00340 533.416 225.600)"/>
<path fill="#ff0000" d="M533 219L539 219L539 220L537 220L537 222L536 222L536 220L533 220L533 219Z"/>
<use href="#gC" fill="#0000ff" transform="matrix(0.00582 0 0 -0.00500 533.416 219.100)"/>
<use href="#gG" fill="#ffa500" transform="matrix(0.00582 0 0 -0.15630 533.416 214.100)"/>
<use href="#gC" fill="#0000ff" transform="matrix(0.00582 0 0 -0.00340 539.543 225.600)"/>
<path fill="#ff0000" d="M540 216L545 216L545 217L543 217L543 222L542 222L542 217L540 217L540 216Z"/>
<use href="#gA" fill="#008000" transform="matrix(0.00582 0 0 -0.00590 539.543 216.300)"/>
<use href="#gG" fill="#ffa500" transform="matrix(0.00582 0 0 -0.13350 539.543 210.400)"/>
<use href="#gG" fill="#ffa500" transform="matrix(0.00582 0 0 -0.00250 545.670 225.600)"/>
<use href="#gA" fill="#008000" transform="matrix(0.00582 0 0 -0.00410 545.670 223.100)"/>
<use href="#gC" fill="#0000ff" transform="matrix(0.00582 0 0 -0.00720 545.670 219.000)"/>
<path fill="#ff0000" d="M546 199L551 199L551 202L549 202L549 212L548 212L548 202L546 202L546 199Z"/>
<use href="#gA" fill="#008000" transform="matrix(0.00582 0 0 -0.00250 551.797 225.600)"/>
<use href="#gG" fill="#ffa500" transform="matrix(0.00582 0 0 -0.00410 551.797 223.100)"/>
<use href="#gC" fill="#0000ff" transform="matrix(0.00582 0 0 -0.01410 551.797 219.000)"/>
<path fill="#ff0000" d="M552 188L558 188L558 191L556 191L556 205L554 205L554 191L552 191L552 188Z"/>
<use href="#gC" fill="#0000ff" transform="matrix(0.00582 0 0 -0.00350 557.925 225.600)"/>
<path fill="#ff0000" d="M558 219L564 219L564 219L562 219L562 222L560 222L560 219L558 219L558 219Z"/>
<use href="#gA" fill="#008000" transform="matrix(0.00582 0 0 -0.00500 557.925 218.600)"/>
<use href="#gG" fill="#ffa500" transform="matrix(0.00582 0 0 -0.01000 557.925 213.600)"/>
<use href="#gG" fill="#ffa500" transform="matrix(0.00582 0 0 -0.00060 564.052 225.600)"/>
<use href="#gC" fill="#0000ff" transform="matrix(0.00582 0 0 -0.00060 564.052 225.000)"/>
<use href="#gA" fill="#008000" transform="matrix(0.00582 0 0 -0.00060 564.052 224.400)"/>
<path fill="#ff0000" d="M570 219L576 219L576 220L574 220L574 226L572 226L572 220L570 220L570 219Z"/>
<use href="#gA" fill="#008000" transform="matrix(0.00582 0 0 -0.00650 570.179 219.000)"/>
<use href="#gC" fill="#0000ff" transform="matrix(0.00582 0 0 -0.00750 570.179 212.500)"/>
<use href="#gG" fill="#ffa500" transform="matrix(0.00582 0 0 -0.09110 570.179 205.000)"/>
<path fill="#ff0000" d="M466 426L472 426L472 426L470 426L470 427L468 427L468 426L466 426L466 426Z"/>
<use href="#gG" fill="#ffa500" transform="matrix(0.00582 0 0 -0.00710 466.016 425.600)"/>
<use href="#gA" fill="#008000" transform="matrix(0.00582 0 0 -0.01010 466.016 418.500)"/>
<use href="#gC" fill="#0000ff" transform="matrix(0.00582 0 0 -0.05660 466.016 408.400)"/>
<use href="#gC" fill="#0000ff" transform="matrix(0.00582 0 0 -0.00050 472.143 426.800)"/>
<use href="#gA" fill="#008000" transform="matrix(0.00582 0 0 -0.00040 472.143 426.300)"/>
<use href="#gA" fill="#008000" transform="matrix(0.00582 0 0 -0.00100 478.271 426.800)"/>
<use href="#gG" fill="#ffa500" transform="matrix(0.00582 0 0 -0.00260 478.271 425.800)"/>
<path fill="#ff0000" d="M478 419L484 419L484 420L482 420L482 423L480 423L480 420L478 420L478 419Z"/>
<use href="#gC" fill="#0000ff" transform="matrix(0.00582 0 0 -0.12940 478.271 419.100)"/>
<use href="#gG" fill="#ffa500" transform="matrix(0.00582 0 0 -0.00100 484.398 426.800)"/>
<path fill="#ff0000" d="M484 422L490 422L490 423L488 423L488 426L486 426L486 423L484 423L484 422Z"/>
<use href="#gC" fill="#0000ff" transform="matrix(0.00582 0 0 -0.00530 484.398 421.900)"/>
<use href="#gA" fill="#008000" transform="matrix(0.00582 0 0 -0.00920 484.398 416.600)"/>
<path fill="#ff0000" d="M497 426L502 426L502 426L500 426L500 427L499 427L499 426L497 426L497 426Z"/>
<use href="#gA" fill="#008000" transform="matrix(0.00582 0 0 -0.00240 496.652 425.600)"/>
<use href="#gC" fill="#0000ff" transform="matrix(0.00582 0 0 -0.02010 496.652 423.200)"/>
<use href="#gG" fill="#ffa500" transform="matrix(0.00582 0 0 -0.03080 496.652 403.100)"/>
<use href="#gG" fill="#ffa500" transform="matrix(0.00582 0 0 -0.00170 521.161 426.800)"/>
<use href="#gA" fill="#008000" transform="matrix(0.00582 0 0 -0.00250 521.161 425.100)"/>
<path fill="#ff0000" d="M521 410L527 410L527 413L525 413L525 423L523 423L523 413L521 413L521 410Z"/>
<use href="#gC" fill="#0000ff" transform="matrix(0.00582 0 0 -0.08700 521.161 410.250)"/>
<use href="#gC" fill="#0000ff" transform="matrix(0.00582 0 0 -0.00080 527.288 426.800)"/>
<path fill="#ff0000" d="M527 420L533 420L533 421L531 421L531 426L529 426L529 421L527 421L527 420Z"/>
<use href="#gG" fill="#ffa500" transform="matrix(0.00582 0 0 -0.01210 527.288 419.750)"/>
<use href="#gA" fill="#008000" transform="matrix(0.00582 0 0 -0.03280 527.288 407.650)"/>
<use href="#gA" fill="#008000" transform="matrix(0.00582 0 0 -0.00170 533.416 426.800)"/>
<path fill="#ff0000" d="M533 418L539 418L539 419L537 419L537 425L536 425L536 419L533 419L533 418Z"/>
<use href="#gG" fill="#ffa500" transform="matrix(0.00582 0 0 -0.12700 533.416 418.000)"/>
<use href="#gC" fill="#0000ff" transform="matrix(0.00582 0 0 -0.00030 539.543 426.800)"/>
<path fill="#ff0000" d="M540 426L545 426L545 426L543 426L543 427L542 427L542 426L540 426L540 426Z"/>
<use href="#gG" fill="#ffa500" transform="matrix(0.00582 0 0 -0.16630 539.543 425.500)"/></g>
</svg>

</body></html>
